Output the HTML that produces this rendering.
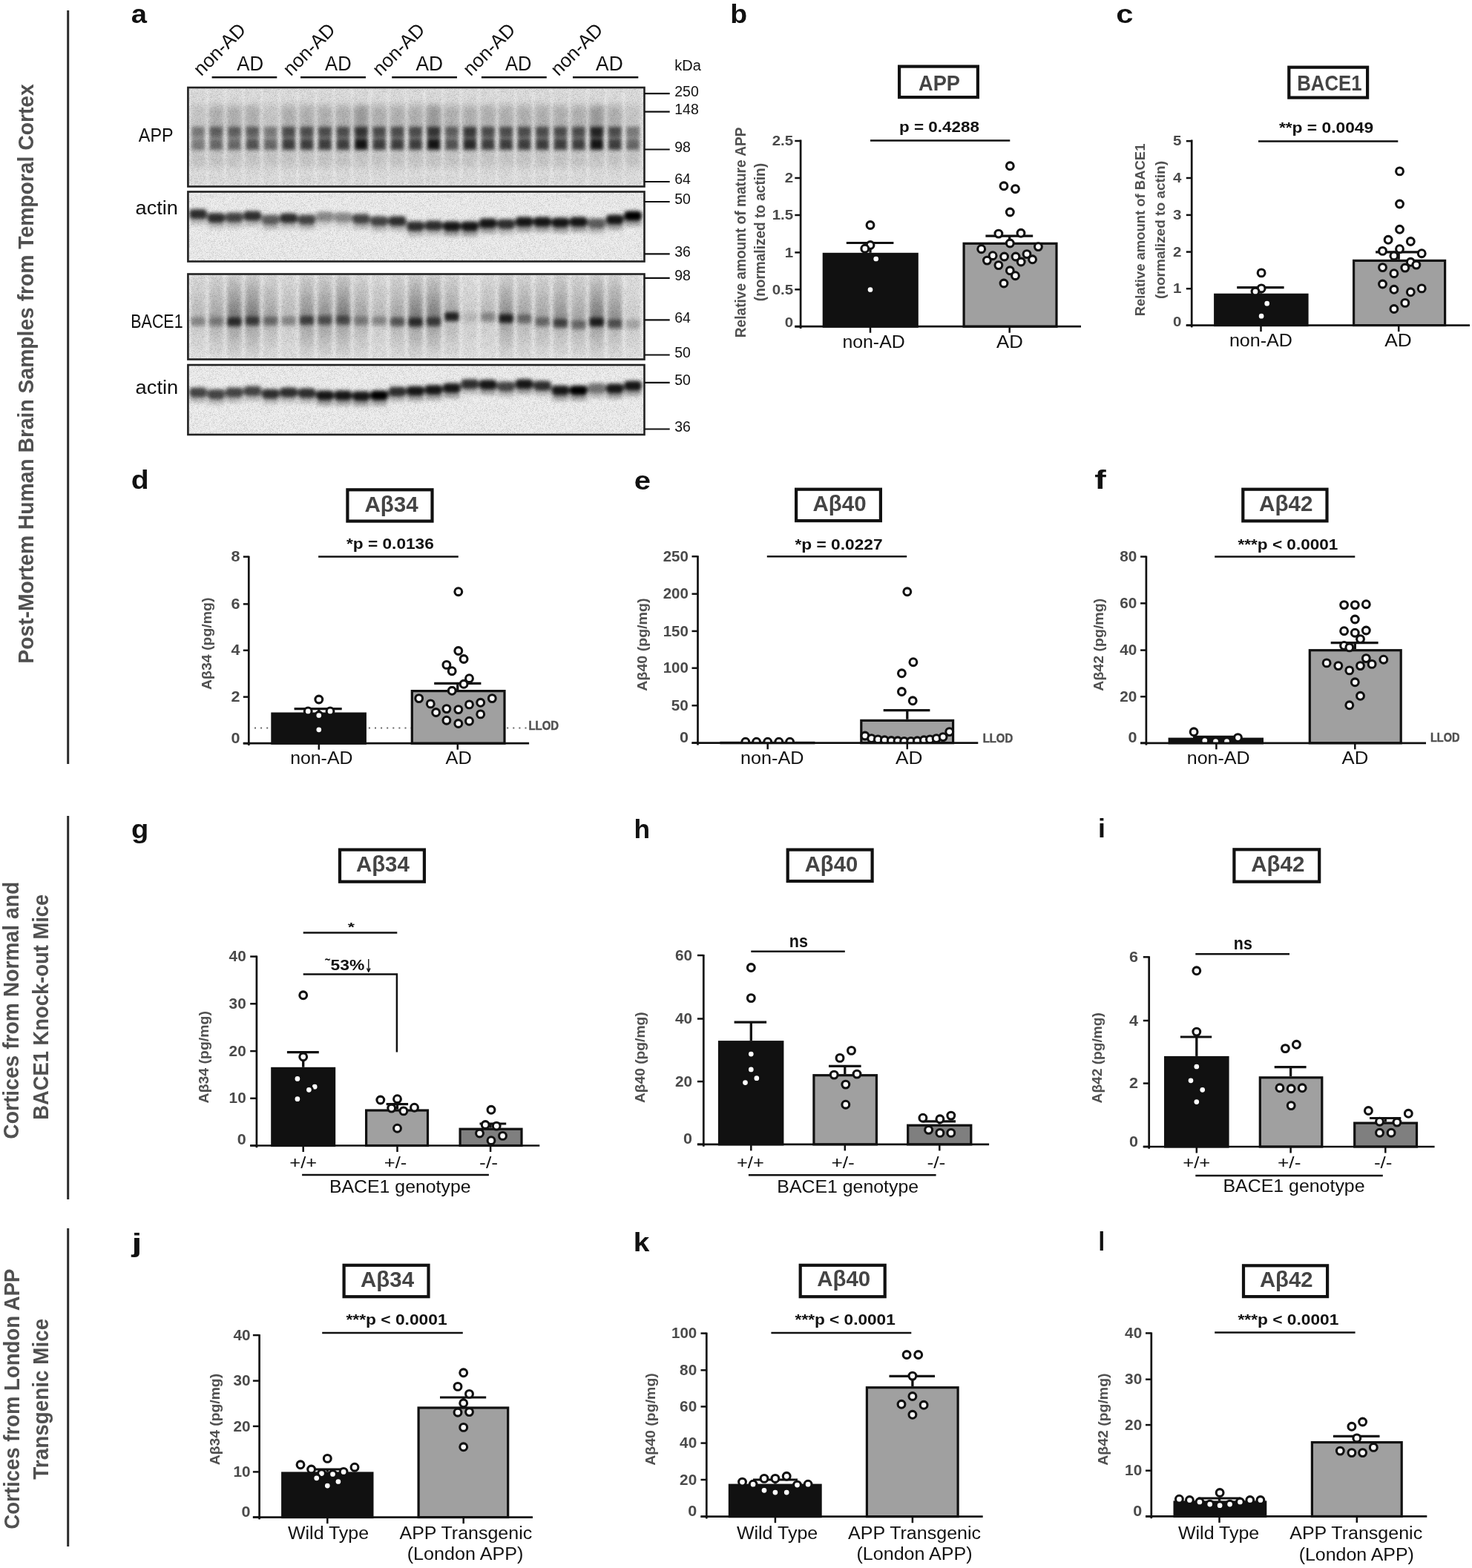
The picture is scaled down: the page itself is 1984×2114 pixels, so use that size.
<!DOCTYPE html><html><head><meta charset="utf-8"><title>Figure</title><style>html,body{margin:0;padding:0;background:#fff;}body{width:1984px;height:2114px;overflow:hidden;}svg{display:block;}</style></head><body><svg width="1984" height="2114" viewBox="0 0 1984 2114" font-family="'Liberation Sans', Arial, sans-serif"><line x1="91.7" y1="14" x2="91.7" y2="1030" stroke="#2b2b2b" stroke-width="3"/>
<line x1="91.7" y1="1100" x2="91.7" y2="1617" stroke="#2b2b2b" stroke-width="3"/>
<line x1="91.7" y1="1656" x2="91.7" y2="2085" stroke="#2b2b2b" stroke-width="3"/>
<text x="45.3" y="894.7" font-size="29" font-weight="bold" fill="#505050" textLength="781.5" lengthAdjust="spacingAndGlyphs" transform="rotate(-90 45.3 894.7)">Post-Mortem Human Brain Samples from Temporal Cortex</text>
<text x="25.5" y="1535.7" font-size="29" font-weight="bold" fill="#505050" textLength="346.9" lengthAdjust="spacingAndGlyphs" transform="rotate(-90 25.5 1535.7)">Cortices from Normal and</text>
<text x="64.6" y="1509.7" font-size="29" font-weight="bold" fill="#505050" textLength="303.9" lengthAdjust="spacingAndGlyphs" transform="rotate(-90 64.6 1509.7)">BACE1 Knock-out Mice</text>
<text x="25.6" y="2061.7" font-size="29" font-weight="bold" fill="#505050" textLength="351.1" lengthAdjust="spacingAndGlyphs" transform="rotate(-90 25.6 2061.7)">Cortices from London APP</text>
<text x="65.2" y="1994.7" font-size="29" font-weight="bold" fill="#505050" textLength="217.1" lengthAdjust="spacingAndGlyphs" transform="rotate(-90 65.2 1994.7)">Transgenic Mice</text>
<text x="176.7" y="31.1" font-size="35" font-weight="bold" fill="#111" textLength="21.2" lengthAdjust="spacingAndGlyphs">a</text>
<text x="984.2" y="30.8" font-size="35" font-weight="bold" fill="#111" textLength="22.9" lengthAdjust="spacingAndGlyphs">b</text>
<text x="1504.2" y="31.1" font-size="35" font-weight="bold" fill="#111" textLength="23.2" lengthAdjust="spacingAndGlyphs">c</text>
<text x="176.8" y="659.2" font-size="35" font-weight="bold" fill="#111" textLength="23.9" lengthAdjust="spacingAndGlyphs">d</text>
<text x="854.8" y="660.2" font-size="35" font-weight="bold" fill="#111" textLength="22.3" lengthAdjust="spacingAndGlyphs">e</text>
<text x="1475.2" y="659.1" font-size="35" font-weight="bold" fill="#111" textLength="15.5" lengthAdjust="spacingAndGlyphs">f</text>
<text x="177.1" y="1129.5" font-size="35" font-weight="bold" fill="#111" textLength="23.3" lengthAdjust="spacingAndGlyphs">g</text>
<text x="854.5" y="1129.5" font-size="35" font-weight="bold" fill="#111" textLength="21.6" lengthAdjust="spacingAndGlyphs">h</text>
<text x="1479.9" y="1128.8" font-size="35" font-weight="bold" fill="#111" textLength="9.9" lengthAdjust="spacingAndGlyphs">i</text>
<text x="177.6" y="1687.5" font-size="35" font-weight="bold" fill="#111" textLength="13.9" lengthAdjust="spacingAndGlyphs">j</text>
<text x="853.8" y="1686.6" font-size="35" font-weight="bold" fill="#111" textLength="21.7" lengthAdjust="spacingAndGlyphs">k</text>
<text x="1480.5" y="1686.3" font-size="35" font-weight="bold" fill="#111" textLength="8.6" lengthAdjust="spacingAndGlyphs">l</text>
<defs><linearGradient id="gup" x1="0" y1="0" x2="0" y2="1"><stop offset="0" stop-color="#000" stop-opacity="0.15"/><stop offset="1" stop-color="#000" stop-opacity="1"/></linearGradient><linearGradient id="gdn" x1="0" y1="0" x2="0" y2="1"><stop offset="0" stop-color="#000" stop-opacity="1"/><stop offset="1" stop-color="#000" stop-opacity="0.1"/></linearGradient><filter id="b2" x="-20%" y="-50%" width="140%" height="200%"><feGaussianBlur stdDeviation="1.8"/></filter><filter id="b25" x="-20%" y="-50%" width="140%" height="200%"><feGaussianBlur stdDeviation="2.4"/></filter><filter id="b3" x="-20%" y="-50%" width="140%" height="200%"><feGaussianBlur stdDeviation="3"/></filter><filter id="b5" x="-30%" y="-30%" width="160%" height="160%"><feGaussianBlur stdDeviation="5"/></filter><filter id="noise" x="0" y="0" width="100%" height="100%"><feTurbulence type="fractalNoise" baseFrequency="1.6" numOctaves="1" seed="3" result="t"/><feColorMatrix type="matrix" values="0 0 0 0 0  0 0 0 0 0  0 0 0 0 0  0 0 0 -2.2 1.25"/></filter><clipPath id="cb0"><rect x="253.4" y="118" width="615.1" height="133.5"/></clipPath><clipPath id="cb1"><rect x="253.4" y="258.5" width="615.1" height="94.0"/></clipPath><clipPath id="cb2"><rect x="253.4" y="369.5" width="615.1" height="115.0"/></clipPath><clipPath id="cb3"><rect x="253.4" y="492" width="615.1" height="94"/></clipPath></defs>
<rect x="253.4" y="118" width="615.1" height="133.5" fill="#e0e0e0"/>
<g clip-path="url(#cb0)"><g filter="url(#b5)"><rect x="257" y="142" width="20" height="38" fill="#000" opacity="0.1"/><rect x="257" y="195" width="20" height="30" fill="#000" opacity="0.1"/><rect x="281.4" y="142" width="20" height="38" fill="#000" opacity="0.2"/><rect x="281.4" y="195" width="20" height="30" fill="#000" opacity="0.1"/><rect x="305.8" y="142" width="20" height="38" fill="#000" opacity="0.2"/><rect x="305.8" y="195" width="20" height="30" fill="#000" opacity="0.1"/><rect x="330.3" y="142" width="20" height="38" fill="#000" opacity="0.2"/><rect x="330.3" y="195" width="20" height="30" fill="#000" opacity="0.1"/><rect x="354.7" y="142" width="20" height="38" fill="#000" opacity="0.1"/><rect x="354.7" y="195" width="20" height="30" fill="#000" opacity="0.1"/><rect x="379.1" y="142" width="20" height="38" fill="#000" opacity="0.2"/><rect x="379.1" y="195" width="20" height="30" fill="#000" opacity="0.1"/><rect x="403.5" y="142" width="20" height="38" fill="#000" opacity="0.2"/><rect x="403.5" y="195" width="20" height="30" fill="#000" opacity="0.1"/><rect x="427.9" y="142" width="20" height="38" fill="#000" opacity="0.2"/><rect x="427.9" y="195" width="20" height="30" fill="#000" opacity="0.1"/><rect x="452.4" y="142" width="20" height="38" fill="#000" opacity="0.2"/><rect x="452.4" y="195" width="20" height="30" fill="#000" opacity="0.1"/><rect x="476.8" y="142" width="20" height="38" fill="#000" opacity="0.3"/><rect x="476.8" y="195" width="20" height="30" fill="#000" opacity="0.1"/><rect x="501.2" y="142" width="20" height="38" fill="#000" opacity="0.2"/><rect x="501.2" y="195" width="20" height="30" fill="#000" opacity="0.1"/><rect x="525.6" y="142" width="20" height="38" fill="#000" opacity="0.2"/><rect x="525.6" y="195" width="20" height="30" fill="#000" opacity="0.1"/><rect x="550" y="142" width="20" height="38" fill="#000" opacity="0.2"/><rect x="550" y="195" width="20" height="30" fill="#000" opacity="0.1"/><rect x="574.5" y="142" width="20" height="38" fill="#000" opacity="0.3"/><rect x="574.5" y="195" width="20" height="30" fill="#000" opacity="0.1"/><rect x="598.9" y="142" width="20" height="38" fill="#000" opacity="0.2"/><rect x="598.9" y="195" width="20" height="30" fill="#000" opacity="0.1"/><rect x="623.3" y="142" width="20" height="38" fill="#000" opacity="0.2"/><rect x="623.3" y="195" width="20" height="30" fill="#000" opacity="0.1"/><rect x="647.7" y="142" width="20" height="38" fill="#000" opacity="0.2"/><rect x="647.7" y="195" width="20" height="30" fill="#000" opacity="0.1"/><rect x="672.1" y="142" width="20" height="38" fill="#000" opacity="0.2"/><rect x="672.1" y="195" width="20" height="30" fill="#000" opacity="0.1"/><rect x="696.6" y="142" width="20" height="38" fill="#000" opacity="0.2"/><rect x="696.6" y="195" width="20" height="30" fill="#000" opacity="0.1"/><rect x="721" y="142" width="20" height="38" fill="#000" opacity="0.2"/><rect x="721" y="195" width="20" height="30" fill="#000" opacity="0.1"/><rect x="745.4" y="142" width="20" height="38" fill="#000" opacity="0.2"/><rect x="745.4" y="195" width="20" height="30" fill="#000" opacity="0.1"/><rect x="769.8" y="142" width="20" height="38" fill="#000" opacity="0.2"/><rect x="769.8" y="195" width="20" height="30" fill="#000" opacity="0.1"/><rect x="794.2" y="142" width="20" height="38" fill="#000" opacity="0.3"/><rect x="794.2" y="195" width="20" height="30" fill="#000" opacity="0.1"/><rect x="818.7" y="142" width="20" height="38" fill="#000" opacity="0.2"/><rect x="818.7" y="195" width="20" height="30" fill="#000" opacity="0.1"/><rect x="843.1" y="142" width="20" height="38" fill="#000" opacity="0.1"/><rect x="843.1" y="195" width="20" height="30" fill="#000" opacity="0.1"/></g><g filter="url(#b25)"><rect x="258" y="171" width="18" height="15" fill="#000" opacity="0.4"/><rect x="258" y="187" width="18" height="15" fill="#000" opacity="0.4"/><rect x="282.4" y="171" width="18" height="15" fill="#000" opacity="0.5"/><rect x="282.4" y="187" width="18" height="15" fill="#000" opacity="0.5"/><rect x="306.8" y="171" width="18" height="15" fill="#000" opacity="0.5"/><rect x="306.8" y="187" width="18" height="15" fill="#000" opacity="0.5"/><rect x="331.3" y="171" width="18" height="15" fill="#000" opacity="0.5"/><rect x="331.3" y="187" width="18" height="15" fill="#000" opacity="0.6"/><rect x="355.7" y="171" width="18" height="15" fill="#000" opacity="0.4"/><rect x="355.7" y="187" width="18" height="15" fill="#000" opacity="0.5"/><rect x="380.1" y="171" width="18" height="15" fill="#000" opacity="0.6"/><rect x="380.1" y="187" width="18" height="15" fill="#000" opacity="0.7"/><rect x="404.5" y="171" width="18" height="15" fill="#000" opacity="0.6"/><rect x="404.5" y="187" width="18" height="15" fill="#000" opacity="0.7"/><rect x="428.9" y="171" width="18" height="15" fill="#000" opacity="0.6"/><rect x="428.9" y="187" width="18" height="15" fill="#000" opacity="0.7"/><rect x="453.4" y="171" width="18" height="15" fill="#000" opacity="0.6"/><rect x="453.4" y="187" width="18" height="15" fill="#000" opacity="0.7"/><rect x="477.8" y="171" width="18" height="15" fill="#000" opacity="0.7"/><rect x="477.8" y="187" width="18" height="15" fill="#000" opacity="0.9"/><rect x="502.2" y="171" width="18" height="15" fill="#000" opacity="0.6"/><rect x="502.2" y="187" width="18" height="15" fill="#000" opacity="0.7"/><rect x="526.6" y="171" width="18" height="15" fill="#000" opacity="0.6"/><rect x="526.6" y="187" width="18" height="15" fill="#000" opacity="0.7"/><rect x="551" y="171" width="18" height="15" fill="#000" opacity="0.6"/><rect x="551" y="187" width="18" height="15" fill="#000" opacity="0.7"/><rect x="575.5" y="171" width="18" height="15" fill="#000" opacity="0.7"/><rect x="575.5" y="187" width="18" height="15" fill="#000" opacity="0.9"/><rect x="599.9" y="171" width="18" height="15" fill="#000" opacity="0.5"/><rect x="599.9" y="187" width="18" height="15" fill="#000" opacity="0.6"/><rect x="624.3" y="171" width="18" height="15" fill="#000" opacity="0.7"/><rect x="624.3" y="187" width="18" height="15" fill="#000" opacity="0.8"/><rect x="648.7" y="171" width="18" height="15" fill="#000" opacity="0.6"/><rect x="648.7" y="187" width="18" height="15" fill="#000" opacity="0.7"/><rect x="673.1" y="171" width="18" height="15" fill="#000" opacity="0.6"/><rect x="673.1" y="187" width="18" height="15" fill="#000" opacity="0.7"/><rect x="697.6" y="171" width="18" height="15" fill="#000" opacity="0.6"/><rect x="697.6" y="187" width="18" height="15" fill="#000" opacity="0.7"/><rect x="722" y="171" width="18" height="15" fill="#000" opacity="0.6"/><rect x="722" y="187" width="18" height="15" fill="#000" opacity="0.7"/><rect x="746.4" y="171" width="18" height="15" fill="#000" opacity="0.6"/><rect x="746.4" y="187" width="18" height="15" fill="#000" opacity="0.7"/><rect x="770.8" y="171" width="18" height="15" fill="#000" opacity="0.6"/><rect x="770.8" y="187" width="18" height="15" fill="#000" opacity="0.7"/><rect x="795.2" y="171" width="18" height="15" fill="#000" opacity="0.8"/><rect x="795.2" y="187" width="18" height="15" fill="#000" opacity="0.9"/><rect x="819.7" y="171" width="18" height="15" fill="#000" opacity="0.6"/><rect x="819.7" y="187" width="18" height="15" fill="#000" opacity="0.7"/><rect x="844.1" y="171" width="18" height="15" fill="#000" opacity="0.4"/><rect x="844.1" y="187" width="18" height="15" fill="#000" opacity="0.5"/></g></g>
<rect x="253.4" y="258.5" width="615.1" height="94" fill="#efefef"/>
<g clip-path="url(#cb1)"><g filter="url(#b25)"><rect x="255" y="282.1" width="24" height="13" rx="5" fill="#000" opacity="0.8"/><rect x="256" y="292.6" width="22" height="10" rx="3" fill="#000" opacity="0.2"/><rect x="279.4" y="287.2" width="24" height="13" rx="5" fill="#000" opacity="0.8"/><rect x="280.4" y="297.7" width="22" height="10" rx="3" fill="#000" opacity="0.2"/><rect x="303.8" y="286.4" width="24" height="13" rx="5" fill="#000" opacity="0.7"/><rect x="304.8" y="296.9" width="22" height="10" rx="3" fill="#000" opacity="0.2"/><rect x="328.3" y="284.5" width="24" height="13" rx="5" fill="#000" opacity="0.8"/><rect x="329.3" y="295" width="22" height="10" rx="3" fill="#000" opacity="0.2"/><rect x="352.7" y="289.5" width="24" height="13" rx="5" fill="#000" opacity="0.6"/><rect x="353.7" y="300" width="22" height="10" rx="3" fill="#000" opacity="0.2"/><rect x="377.1" y="287.5" width="24" height="13" rx="5" fill="#000" opacity="0.8"/><rect x="378.1" y="298" width="22" height="10" rx="3" fill="#000" opacity="0.2"/><rect x="401.5" y="289.5" width="24" height="13" rx="5" fill="#000" opacity="0.7"/><rect x="402.5" y="300" width="22" height="10" rx="3" fill="#000" opacity="0.2"/><rect x="425.9" y="285.5" width="24" height="13" rx="5" fill="#000" opacity="0.4"/><rect x="426.9" y="296" width="22" height="10" rx="3" fill="#000" opacity="0.1"/><rect x="450.4" y="286.5" width="24" height="13" rx="5" fill="#000" opacity="0.4"/><rect x="451.4" y="297" width="22" height="10" rx="3" fill="#000" opacity="0.1"/><rect x="474.8" y="288.5" width="24" height="13" rx="5" fill="#000" opacity="0.7"/><rect x="475.8" y="299" width="22" height="10" rx="3" fill="#000" opacity="0.2"/><rect x="499.2" y="291.5" width="24" height="13" rx="5" fill="#000" opacity="0.7"/><rect x="500.2" y="302" width="22" height="10" rx="3" fill="#000" opacity="0.2"/><rect x="523.6" y="291.5" width="24" height="13" rx="5" fill="#000" opacity="0.8"/><rect x="524.6" y="302" width="22" height="10" rx="3" fill="#000" opacity="0.2"/><rect x="548" y="298.5" width="24" height="13" rx="5" fill="#000" opacity="0.8"/><rect x="549" y="309" width="22" height="10" rx="3" fill="#000" opacity="0.2"/><rect x="572.5" y="297.5" width="24" height="13" rx="5" fill="#000" opacity="0.8"/><rect x="573.5" y="308" width="22" height="10" rx="3" fill="#000" opacity="0.2"/><rect x="596.9" y="298.5" width="24" height="13" rx="5" fill="#000" opacity="0.9"/><rect x="597.9" y="309" width="22" height="10" rx="3" fill="#000" opacity="0.3"/><rect x="621.3" y="298.5" width="24" height="13" rx="5" fill="#000" opacity="0.9"/><rect x="622.3" y="309" width="22" height="10" rx="3" fill="#000" opacity="0.3"/><rect x="645.7" y="294.5" width="24" height="13" rx="5" fill="#000" opacity="0.9"/><rect x="646.7" y="305" width="22" height="10" rx="3" fill="#000" opacity="0.3"/><rect x="670.1" y="295.5" width="24" height="13" rx="5" fill="#000" opacity="0.8"/><rect x="671.1" y="306" width="22" height="10" rx="3" fill="#000" opacity="0.2"/><rect x="694.6" y="292.5" width="24" height="13" rx="5" fill="#000" opacity="0.9"/><rect x="695.6" y="303" width="22" height="10" rx="3" fill="#000" opacity="0.3"/><rect x="719" y="292.5" width="24" height="13" rx="5" fill="#000" opacity="0.9"/><rect x="720" y="303" width="22" height="10" rx="3" fill="#000" opacity="0.3"/><rect x="743.4" y="293.5" width="24" height="13" rx="5" fill="#000" opacity="0.9"/><rect x="744.4" y="304" width="22" height="10" rx="3" fill="#000" opacity="0.3"/><rect x="767.8" y="292.5" width="24" height="13" rx="5" fill="#000" opacity="0.9"/><rect x="768.8" y="303" width="22" height="10" rx="3" fill="#000" opacity="0.3"/><rect x="792.2" y="294.5" width="24" height="13" rx="5" fill="#000" opacity="0.6"/><rect x="793.2" y="305" width="22" height="10" rx="3" fill="#000" opacity="0.2"/><rect x="816.7" y="289.5" width="24" height="13" rx="5" fill="#000" opacity="0.9"/><rect x="817.7" y="300" width="22" height="10" rx="3" fill="#000" opacity="0.3"/><rect x="841.1" y="284.5" width="24" height="13" rx="5" fill="#000" opacity="1"/><rect x="842.1" y="295" width="22" height="10" rx="3" fill="#000" opacity="0.3"/></g></g>
<rect x="253.4" y="369.5" width="615.1" height="115" fill="#e8e8e8"/>
<g clip-path="url(#cb2)"><g filter="url(#b3)"><rect x="257" y="368" width="20" height="66" fill="url(#gup)" opacity="0.2"/><rect x="257" y="434" width="20" height="50" fill="url(#gdn)" opacity="0.1"/><rect x="281.4" y="368" width="20" height="66" fill="url(#gup)" opacity="0.3"/><rect x="281.4" y="434" width="20" height="50" fill="url(#gdn)" opacity="0.2"/><rect x="305.8" y="368" width="20" height="66" fill="url(#gup)" opacity="0.5"/><rect x="305.8" y="434" width="20" height="50" fill="url(#gdn)" opacity="0.3"/><rect x="330.3" y="368" width="20" height="65" fill="url(#gup)" opacity="0.5"/><rect x="330.3" y="433" width="20" height="51" fill="url(#gdn)" opacity="0.3"/><rect x="354.7" y="368" width="20" height="65" fill="url(#gup)" opacity="0.3"/><rect x="354.7" y="433" width="20" height="51" fill="url(#gdn)" opacity="0.2"/><rect x="379.1" y="368" width="20" height="65" fill="url(#gup)" opacity="0.2"/><rect x="379.1" y="433" width="20" height="51" fill="url(#gdn)" opacity="0.1"/><rect x="403.5" y="368" width="20" height="64" fill="url(#gup)" opacity="0.4"/><rect x="403.5" y="432" width="20" height="52" fill="url(#gdn)" opacity="0.3"/><rect x="427.9" y="368" width="20" height="64" fill="url(#gup)" opacity="0.4"/><rect x="427.9" y="432" width="20" height="52" fill="url(#gdn)" opacity="0.3"/><rect x="452.4" y="368" width="20" height="64" fill="url(#gup)" opacity="0.5"/><rect x="452.4" y="432" width="20" height="52" fill="url(#gdn)" opacity="0.3"/><rect x="476.8" y="368" width="20" height="65" fill="url(#gup)" opacity="0.3"/><rect x="476.8" y="433" width="20" height="51" fill="url(#gdn)" opacity="0.2"/><rect x="501.2" y="368" width="20" height="65" fill="url(#gup)" opacity="0.2"/><rect x="501.2" y="433" width="20" height="51" fill="url(#gdn)" opacity="0.1"/><rect x="525.6" y="368" width="20" height="66" fill="url(#gup)" opacity="0.3"/><rect x="525.6" y="434" width="20" height="50" fill="url(#gdn)" opacity="0.2"/><rect x="550" y="368" width="20" height="66.6" fill="url(#gup)" opacity="0.5"/><rect x="550" y="434.6" width="20" height="49.4" fill="url(#gdn)" opacity="0.3"/><rect x="574.5" y="368" width="20" height="66" fill="url(#gup)" opacity="0.5"/><rect x="574.5" y="434" width="20" height="50" fill="url(#gdn)" opacity="0.3"/><rect x="598.9" y="368" width="20" height="59" fill="url(#gup)" opacity="0.3"/><rect x="598.9" y="427" width="20" height="57" fill="url(#gdn)" opacity="0.2"/><rect x="623.3" y="368" width="20" height="60" fill="url(#gup)" opacity="0.1"/><rect x="623.3" y="428" width="20" height="56" fill="url(#gdn)" opacity="0.1"/><rect x="647.7" y="368" width="20" height="60" fill="url(#gup)" opacity="0.2"/><rect x="647.7" y="428" width="20" height="56" fill="url(#gdn)" opacity="0.1"/><rect x="672.1" y="368" width="20" height="61.5" fill="url(#gup)" opacity="0.4"/><rect x="672.1" y="429.5" width="20" height="54.5" fill="url(#gdn)" opacity="0.3"/><rect x="696.6" y="368" width="20" height="62" fill="url(#gup)" opacity="0.3"/><rect x="696.6" y="430" width="20" height="54" fill="url(#gdn)" opacity="0.2"/><rect x="721" y="368" width="20" height="66" fill="url(#gup)" opacity="0.3"/><rect x="721" y="434" width="20" height="50" fill="url(#gdn)" opacity="0.2"/><rect x="745.4" y="368" width="20" height="68" fill="url(#gup)" opacity="0.4"/><rect x="745.4" y="436" width="20" height="48" fill="url(#gdn)" opacity="0.2"/><rect x="769.8" y="368" width="20" height="70" fill="url(#gup)" opacity="0.3"/><rect x="769.8" y="438" width="20" height="46" fill="url(#gdn)" opacity="0.2"/><rect x="794.2" y="368" width="20" height="66.6" fill="url(#gup)" opacity="0.5"/><rect x="794.2" y="434.6" width="20" height="49.4" fill="url(#gdn)" opacity="0.3"/><rect x="818.7" y="368" width="20" height="69" fill="url(#gup)" opacity="0.4"/><rect x="818.7" y="437" width="20" height="47" fill="url(#gdn)" opacity="0.2"/><rect x="843.1" y="368" width="20" height="69" fill="url(#gup)" opacity="0.1"/><rect x="843.1" y="437" width="20" height="47" fill="url(#gdn)" opacity="0.1"/></g><g filter="url(#b25)"><rect x="257" y="428" width="20" height="12" rx="3" fill="#000" opacity="0.3"/><rect x="281.4" y="428" width="20" height="12" rx="3" fill="#000" opacity="0.3"/><rect x="305.8" y="428" width="20" height="12" rx="3" fill="#000" opacity="0.7"/><rect x="330.3" y="427" width="20" height="12" rx="3" fill="#000" opacity="0.6"/><rect x="354.7" y="427" width="20" height="12" rx="3" fill="#000" opacity="0.4"/><rect x="379.1" y="427" width="20" height="12" rx="3" fill="#000" opacity="0.3"/><rect x="403.5" y="426" width="20" height="12" rx="3" fill="#000" opacity="0.6"/><rect x="427.9" y="426" width="20" height="12" rx="3" fill="#000" opacity="0.5"/><rect x="452.4" y="426" width="20" height="12" rx="3" fill="#000" opacity="0.5"/><rect x="476.8" y="427" width="20" height="12" rx="3" fill="#000" opacity="0.3"/><rect x="501.2" y="427" width="20" height="12" rx="3" fill="#000" opacity="0.3"/><rect x="525.6" y="428" width="20" height="12" rx="3" fill="#000" opacity="0.5"/><rect x="550" y="428.6" width="20" height="12" rx="3" fill="#000" opacity="0.7"/><rect x="574.5" y="428" width="20" height="12" rx="3" fill="#000" opacity="0.6"/><rect x="598.9" y="421" width="20" height="12" rx="3" fill="#000" opacity="0.8"/><rect x="623.3" y="422" width="20" height="12" rx="3" fill="#000" opacity="0.1"/><rect x="647.7" y="422" width="20" height="12" rx="3" fill="#000" opacity="0.3"/><rect x="672.1" y="423.5" width="20" height="12" rx="3" fill="#000" opacity="0.8"/><rect x="696.6" y="424" width="20" height="12" rx="3" fill="#000" opacity="0.4"/><rect x="721" y="428" width="20" height="12" rx="3" fill="#000" opacity="0.4"/><rect x="745.4" y="430" width="20" height="12" rx="3" fill="#000" opacity="0.6"/><rect x="769.8" y="432" width="20" height="12" rx="3" fill="#000" opacity="0.4"/><rect x="794.2" y="428.6" width="20" height="12" rx="3" fill="#000" opacity="0.8"/><rect x="818.7" y="431" width="20" height="12" rx="3" fill="#000" opacity="0.5"/><rect x="843.1" y="431" width="20" height="12" rx="3" fill="#000" opacity="0.2"/></g></g>
<rect x="253.4" y="492" width="615.1" height="94" fill="#f0f0f0"/>
<g clip-path="url(#cb3)"><g filter="url(#b25)"><rect x="255" y="522.4" width="24" height="13" rx="5" fill="#000" opacity="0.7"/><rect x="256" y="532.9" width="22" height="10" rx="3" fill="#000" opacity="0.2"/><rect x="279.4" y="525" width="24" height="13" rx="5" fill="#000" opacity="0.7"/><rect x="280.4" y="535.5" width="22" height="10" rx="3" fill="#000" opacity="0.2"/><rect x="303.8" y="522.5" width="24" height="13" rx="5" fill="#000" opacity="0.7"/><rect x="304.8" y="533" width="22" height="10" rx="3" fill="#000" opacity="0.2"/><rect x="328.3" y="520.5" width="24" height="13" rx="5" fill="#000" opacity="0.7"/><rect x="329.3" y="531" width="22" height="10" rx="3" fill="#000" opacity="0.2"/><rect x="352.7" y="524.5" width="24" height="13" rx="5" fill="#000" opacity="0.8"/><rect x="353.7" y="535" width="22" height="10" rx="3" fill="#000" opacity="0.2"/><rect x="377.1" y="522.5" width="24" height="13" rx="5" fill="#000" opacity="0.8"/><rect x="378.1" y="533" width="22" height="10" rx="3" fill="#000" opacity="0.2"/><rect x="401.5" y="523.5" width="24" height="13" rx="5" fill="#000" opacity="0.8"/><rect x="402.5" y="534" width="22" height="10" rx="3" fill="#000" opacity="0.2"/><rect x="425.9" y="526.5" width="24" height="13" rx="5" fill="#000" opacity="0.9"/><rect x="426.9" y="537" width="22" height="10" rx="3" fill="#000" opacity="0.3"/><rect x="450.4" y="526.5" width="24" height="13" rx="5" fill="#000" opacity="0.9"/><rect x="451.4" y="537" width="22" height="10" rx="3" fill="#000" opacity="0.3"/><rect x="474.8" y="527.5" width="24" height="13" rx="5" fill="#000" opacity="0.9"/><rect x="475.8" y="538" width="22" height="10" rx="3" fill="#000" opacity="0.3"/><rect x="499.2" y="526.5" width="24" height="13" rx="5" fill="#000" opacity="1"/><rect x="500.2" y="537" width="22" height="10" rx="3" fill="#000" opacity="0.3"/><rect x="523.6" y="521.5" width="24" height="13" rx="5" fill="#000" opacity="0.8"/><rect x="524.6" y="532" width="22" height="10" rx="3" fill="#000" opacity="0.2"/><rect x="548" y="520.5" width="24" height="13" rx="5" fill="#000" opacity="0.9"/><rect x="549" y="531" width="22" height="10" rx="3" fill="#000" opacity="0.3"/><rect x="572.5" y="519" width="24" height="13" rx="5" fill="#000" opacity="0.9"/><rect x="573.5" y="529.5" width="22" height="10" rx="3" fill="#000" opacity="0.3"/><rect x="596.9" y="516.5" width="24" height="13" rx="5" fill="#000" opacity="0.9"/><rect x="597.9" y="527" width="22" height="10" rx="3" fill="#000" opacity="0.3"/><rect x="621.3" y="511.2" width="24" height="13" rx="5" fill="#000" opacity="0.8"/><rect x="622.3" y="521.7" width="22" height="10" rx="3" fill="#000" opacity="0.2"/><rect x="645.7" y="512.1" width="24" height="13" rx="5" fill="#000" opacity="0.9"/><rect x="646.7" y="522.6" width="22" height="10" rx="3" fill="#000" opacity="0.3"/><rect x="670.1" y="514.5" width="24" height="13" rx="5" fill="#000" opacity="0.7"/><rect x="671.1" y="525" width="22" height="10" rx="3" fill="#000" opacity="0.2"/><rect x="694.6" y="511.2" width="24" height="13" rx="5" fill="#000" opacity="0.9"/><rect x="695.6" y="521.7" width="22" height="10" rx="3" fill="#000" opacity="0.3"/><rect x="719" y="513.5" width="24" height="13" rx="5" fill="#000" opacity="0.8"/><rect x="720" y="524" width="22" height="10" rx="3" fill="#000" opacity="0.2"/><rect x="743.4" y="519.8" width="24" height="13" rx="5" fill="#000" opacity="0.9"/><rect x="744.4" y="530.3" width="22" height="10" rx="3" fill="#000" opacity="0.3"/><rect x="767.8" y="519.8" width="24" height="13" rx="5" fill="#000" opacity="1"/><rect x="768.8" y="530.3" width="22" height="10" rx="3" fill="#000" opacity="0.3"/><rect x="792.2" y="516.5" width="24" height="13" rx="5" fill="#000" opacity="0.5"/><rect x="793.2" y="527" width="22" height="10" rx="3" fill="#000" opacity="0.2"/><rect x="816.7" y="517.2" width="24" height="13" rx="5" fill="#000" opacity="0.9"/><rect x="817.7" y="527.7" width="22" height="10" rx="3" fill="#000" opacity="0.3"/><rect x="841.1" y="513.5" width="24" height="13" rx="5" fill="#000" opacity="0.9"/><rect x="842.1" y="524" width="22" height="10" rx="3" fill="#000" opacity="0.3"/></g></g>
<g clip-path="url(#cb0)" filter="url(#b2)"><rect x="253" y="118" width="3.6" height="133.5" fill="#fff" opacity="0.35"/><rect x="277.4" y="118" width="3.6" height="133.5" fill="#fff" opacity="0.35"/><rect x="301.8" y="118" width="3.6" height="133.5" fill="#fff" opacity="0.35"/><rect x="326.3" y="118" width="3.6" height="133.5" fill="#fff" opacity="0.35"/><rect x="350.7" y="118" width="3.6" height="133.5" fill="#fff" opacity="0.35"/><rect x="375.1" y="118" width="3.6" height="133.5" fill="#fff" opacity="0.35"/><rect x="399.5" y="118" width="3.6" height="133.5" fill="#fff" opacity="0.35"/><rect x="423.9" y="118" width="3.6" height="133.5" fill="#fff" opacity="0.35"/><rect x="448.4" y="118" width="3.6" height="133.5" fill="#fff" opacity="0.35"/><rect x="472.8" y="118" width="3.6" height="133.5" fill="#fff" opacity="0.35"/><rect x="497.2" y="118" width="3.6" height="133.5" fill="#fff" opacity="0.35"/><rect x="521.6" y="118" width="3.6" height="133.5" fill="#fff" opacity="0.35"/><rect x="546" y="118" width="3.6" height="133.5" fill="#fff" opacity="0.35"/><rect x="570.5" y="118" width="3.6" height="133.5" fill="#fff" opacity="0.35"/><rect x="594.9" y="118" width="3.6" height="133.5" fill="#fff" opacity="0.35"/><rect x="619.3" y="118" width="3.6" height="133.5" fill="#fff" opacity="0.35"/><rect x="643.7" y="118" width="3.6" height="133.5" fill="#fff" opacity="0.35"/><rect x="668.1" y="118" width="3.6" height="133.5" fill="#fff" opacity="0.35"/><rect x="692.6" y="118" width="3.6" height="133.5" fill="#fff" opacity="0.35"/><rect x="717" y="118" width="3.6" height="133.5" fill="#fff" opacity="0.35"/><rect x="741.4" y="118" width="3.6" height="133.5" fill="#fff" opacity="0.35"/><rect x="765.8" y="118" width="3.6" height="133.5" fill="#fff" opacity="0.35"/><rect x="790.2" y="118" width="3.6" height="133.5" fill="#fff" opacity="0.35"/><rect x="814.7" y="118" width="3.6" height="133.5" fill="#fff" opacity="0.35"/><rect x="839.1" y="118" width="3.6" height="133.5" fill="#fff" opacity="0.35"/><rect x="863.5" y="118" width="3.6" height="133.5" fill="#fff" opacity="0.35"/></g>
<g clip-path="url(#cb2)" filter="url(#b2)"><rect x="253" y="369.5" width="3.6" height="115.0" fill="#fff" opacity="0.35"/><rect x="277.4" y="369.5" width="3.6" height="115.0" fill="#fff" opacity="0.35"/><rect x="301.8" y="369.5" width="3.6" height="115.0" fill="#fff" opacity="0.35"/><rect x="326.3" y="369.5" width="3.6" height="115.0" fill="#fff" opacity="0.35"/><rect x="350.7" y="369.5" width="3.6" height="115.0" fill="#fff" opacity="0.35"/><rect x="375.1" y="369.5" width="3.6" height="115.0" fill="#fff" opacity="0.35"/><rect x="399.5" y="369.5" width="3.6" height="115.0" fill="#fff" opacity="0.35"/><rect x="423.9" y="369.5" width="3.6" height="115.0" fill="#fff" opacity="0.35"/><rect x="448.4" y="369.5" width="3.6" height="115.0" fill="#fff" opacity="0.35"/><rect x="472.8" y="369.5" width="3.6" height="115.0" fill="#fff" opacity="0.35"/><rect x="497.2" y="369.5" width="3.6" height="115.0" fill="#fff" opacity="0.35"/><rect x="521.6" y="369.5" width="3.6" height="115.0" fill="#fff" opacity="0.35"/><rect x="546" y="369.5" width="3.6" height="115.0" fill="#fff" opacity="0.35"/><rect x="570.5" y="369.5" width="3.6" height="115.0" fill="#fff" opacity="0.35"/><rect x="594.9" y="369.5" width="3.6" height="115.0" fill="#fff" opacity="0.35"/><rect x="619.3" y="369.5" width="3.6" height="115.0" fill="#fff" opacity="0.35"/><rect x="643.7" y="369.5" width="3.6" height="115.0" fill="#fff" opacity="0.35"/><rect x="668.1" y="369.5" width="3.6" height="115.0" fill="#fff" opacity="0.35"/><rect x="692.6" y="369.5" width="3.6" height="115.0" fill="#fff" opacity="0.35"/><rect x="717" y="369.5" width="3.6" height="115.0" fill="#fff" opacity="0.35"/><rect x="741.4" y="369.5" width="3.6" height="115.0" fill="#fff" opacity="0.35"/><rect x="765.8" y="369.5" width="3.6" height="115.0" fill="#fff" opacity="0.35"/><rect x="790.2" y="369.5" width="3.6" height="115.0" fill="#fff" opacity="0.35"/><rect x="814.7" y="369.5" width="3.6" height="115.0" fill="#fff" opacity="0.35"/><rect x="839.1" y="369.5" width="3.6" height="115.0" fill="#fff" opacity="0.35"/><rect x="863.5" y="369.5" width="3.6" height="115.0" fill="#fff" opacity="0.35"/></g>
<rect x="253.4" y="118" width="615.1" height="133.5" fill="#000" filter="url(#noise)" opacity="0.22"/>
<rect x="253.4" y="258.5" width="615.1" height="94.0" fill="#000" filter="url(#noise)" opacity="0.22"/>
<rect x="253.4" y="369.5" width="615.1" height="115.0" fill="#000" filter="url(#noise)" opacity="0.22"/>
<rect x="253.4" y="492" width="615.1" height="94" fill="#000" filter="url(#noise)" opacity="0.22"/>
<rect x="253.4" y="118" width="615.1" height="133.5" fill="none" stroke="#222" stroke-width="2.6"/>
<rect x="253.4" y="258.5" width="615.1" height="94" fill="none" stroke="#222" stroke-width="2.6"/>
<rect x="253.4" y="369.5" width="615.1" height="115" fill="none" stroke="#222" stroke-width="2.6"/>
<rect x="253.4" y="492" width="615.1" height="94" fill="none" stroke="#222" stroke-width="2.6"/>
<line x1="868.5" y1="126.2" x2="902.7" y2="126.2" stroke="#111" stroke-width="2.2"/>
<text x="909.2" y="129.6" font-size="19.5" fill="#111">250</text>
<line x1="868.5" y1="150.6" x2="902.7" y2="150.6" stroke="#111" stroke-width="2.2"/>
<text x="909.2" y="154" font-size="19.5" fill="#111">148</text>
<line x1="868.5" y1="201.5" x2="902.7" y2="201.5" stroke="#111" stroke-width="2.2"/>
<text x="909.2" y="204.9" font-size="19.5" fill="#111">98</text>
<line x1="868.5" y1="245" x2="902.7" y2="245" stroke="#111" stroke-width="2.2"/>
<text x="909.2" y="248.4" font-size="19.5" fill="#111">64</text>
<line x1="868.5" y1="272" x2="902.7" y2="272" stroke="#111" stroke-width="2.2"/>
<text x="909.2" y="275.4" font-size="19.5" fill="#111">50</text>
<line x1="868.5" y1="342.3" x2="902.7" y2="342.3" stroke="#111" stroke-width="2.2"/>
<text x="909.2" y="345.7" font-size="19.5" fill="#111">36</text>
<line x1="868.5" y1="374.9" x2="902.7" y2="374.9" stroke="#111" stroke-width="2.2"/>
<text x="909.2" y="378.3" font-size="19.5" fill="#111">98</text>
<line x1="868.5" y1="431.3" x2="902.7" y2="431.3" stroke="#111" stroke-width="2.2"/>
<text x="909.2" y="434.7" font-size="19.5" fill="#111">64</text>
<line x1="868.5" y1="478.5" x2="902.7" y2="478.5" stroke="#111" stroke-width="2.2"/>
<text x="909.2" y="481.9" font-size="19.5" fill="#111">50</text>
<line x1="868.5" y1="515.8" x2="902.7" y2="515.8" stroke="#111" stroke-width="2.2"/>
<text x="909.2" y="519.2" font-size="19.5" fill="#111">50</text>
<line x1="868.5" y1="578.5" x2="902.7" y2="578.5" stroke="#111" stroke-width="2.2"/>
<text x="909.2" y="581.9" font-size="19.5" fill="#111">36</text>
<text x="909.2" y="94.5" font-size="20.5" fill="#111" textLength="35.6" lengthAdjust="spacingAndGlyphs">kDa</text>
<text x="186.8" y="190.8" font-size="25.5" fill="#111" textLength="46.8" lengthAdjust="spacingAndGlyphs">APP</text>
<text x="182.6" y="289.4" font-size="25.5" fill="#111" textLength="57.3" lengthAdjust="spacingAndGlyphs">actin</text>
<text x="176.3" y="441.5" font-size="25.5" fill="#111" textLength="70.3" lengthAdjust="spacingAndGlyphs">BACE1</text>
<text x="182.6" y="530.6" font-size="25.5" fill="#111" textLength="57.6" lengthAdjust="spacingAndGlyphs">actin</text>
<text x="271.3" y="103.4" font-size="26" fill="#111" textLength="87" lengthAdjust="spacingAndGlyphs" transform="rotate(-45 271.3 103.4)">non-AD</text>
<text x="319.2" y="94.6" font-size="27.5" fill="#111" textLength="35.9" lengthAdjust="spacingAndGlyphs">AD</text>
<line x1="285.6" y1="104.3" x2="373.3" y2="104.3" stroke="#111" stroke-width="2.4"/>
<text x="391.9" y="103.4" font-size="26" fill="#111" textLength="87" lengthAdjust="spacingAndGlyphs" transform="rotate(-45 391.9 103.4)">non-AD</text>
<text x="438.1" y="94.6" font-size="27.5" fill="#111" textLength="35.5" lengthAdjust="spacingAndGlyphs">AD</text>
<line x1="405" y1="104.3" x2="493" y2="104.3" stroke="#111" stroke-width="2.4"/>
<text x="512.5" y="103.4" font-size="26" fill="#111" textLength="87" lengthAdjust="spacingAndGlyphs" transform="rotate(-45 512.5 103.4)">non-AD</text>
<text x="560.4" y="94.6" font-size="27.5" fill="#111" textLength="36.6" lengthAdjust="spacingAndGlyphs">AD</text>
<line x1="528.2" y1="104.3" x2="616" y2="104.3" stroke="#111" stroke-width="2.4"/>
<text x="634.5" y="103.4" font-size="26" fill="#111" textLength="87" lengthAdjust="spacingAndGlyphs" transform="rotate(-45 634.5 103.4)">non-AD</text>
<text x="680.9" y="94.6" font-size="27.5" fill="#111" textLength="35.5" lengthAdjust="spacingAndGlyphs">AD</text>
<line x1="648.9" y1="104.3" x2="736.8" y2="104.3" stroke="#111" stroke-width="2.4"/>
<text x="752.7" y="103.4" font-size="26" fill="#111" textLength="87" lengthAdjust="spacingAndGlyphs" transform="rotate(-45 752.7 103.4)">non-AD</text>
<text x="803.1" y="94.6" font-size="27.5" fill="#111" textLength="36.6" lengthAdjust="spacingAndGlyphs">AD</text>
<line x1="772" y1="104.3" x2="860.3" y2="104.3" stroke="#111" stroke-width="2.4"/>
<rect x="1110.3" y="342.4" width="125.9" height="97.8" fill="#111" stroke="#111" stroke-width="3.2"/>
<rect x="1299.1" y="328.3" width="124.9" height="111.9" fill="#a0a0a0" stroke="#111" stroke-width="3.2"/>
<line x1="1173" y1="340.8" x2="1173" y2="327.5" stroke="#111" stroke-width="3.3"/>
<line x1="1140.8" y1="327.5" x2="1204.4" y2="327.5" stroke="#111" stroke-width="3.2"/>
<line x1="1360.7" y1="326.7" x2="1360.7" y2="318.2" stroke="#111" stroke-width="3.3"/>
<line x1="1328.4" y1="318.2" x2="1392.2" y2="318.2" stroke="#111" stroke-width="3.2"/>
<clipPath id="cl87"><rect x="0" y="0" width="1984" height="439.7"/></clipPath><g clip-path="url(#cl87)">
<circle cx="1173" cy="303.5" r="4.9" fill="#fff" stroke="#111" stroke-width="3.1"/>
<circle cx="1173" cy="330.5" r="4.9" fill="#fff" stroke="#111" stroke-width="3.1"/>
<circle cx="1165.8" cy="335.2" r="4.9" fill="#fff" stroke="#111" stroke-width="3.1"/>
<circle cx="1180.7" cy="349" r="4.9" fill="#fff" stroke="#111" stroke-width="3.1"/>
<circle cx="1173" cy="390.5" r="4.9" fill="#fff" stroke="#111" stroke-width="3.1"/>
<circle cx="1361.3" cy="223.8" r="4.9" fill="#fff" stroke="#111" stroke-width="3.1"/>
<circle cx="1353" cy="250.8" r="4.9" fill="#fff" stroke="#111" stroke-width="3.1"/>
<circle cx="1368.5" cy="254.7" r="4.9" fill="#fff" stroke="#111" stroke-width="3.1"/>
<circle cx="1361.3" cy="286" r="4.9" fill="#fff" stroke="#111" stroke-width="3.1"/>
<circle cx="1345.9" cy="315.1" r="4.9" fill="#fff" stroke="#111" stroke-width="3.1"/>
<circle cx="1376" cy="314.3" r="4.9" fill="#fff" stroke="#111" stroke-width="3.1"/>
<circle cx="1361.3" cy="328" r="4.9" fill="#fff" stroke="#111" stroke-width="3.1"/>
<circle cx="1322.7" cy="335.7" r="4.9" fill="#fff" stroke="#111" stroke-width="3.1"/>
<circle cx="1399.4" cy="332.6" r="4.9" fill="#fff" stroke="#111" stroke-width="3.1"/>
<circle cx="1338.1" cy="344.7" r="4.9" fill="#fff" stroke="#111" stroke-width="3.1"/>
<circle cx="1353.6" cy="346" r="4.9" fill="#fff" stroke="#111" stroke-width="3.1"/>
<circle cx="1369" cy="346" r="4.9" fill="#fff" stroke="#111" stroke-width="3.1"/>
<circle cx="1384" cy="342.6" r="4.9" fill="#fff" stroke="#111" stroke-width="3.1"/>
<circle cx="1330.4" cy="351.1" r="4.9" fill="#fff" stroke="#111" stroke-width="3.1"/>
<circle cx="1376.2" cy="353" r="4.9" fill="#fff" stroke="#111" stroke-width="3.1"/>
<circle cx="1391.6" cy="349.8" r="4.9" fill="#fff" stroke="#111" stroke-width="3.1"/>
<circle cx="1345.9" cy="357.6" r="4.9" fill="#fff" stroke="#111" stroke-width="3.1"/>
<circle cx="1361.3" cy="364.8" r="4.9" fill="#fff" stroke="#111" stroke-width="3.1"/>
<circle cx="1368.5" cy="371.7" r="4.9" fill="#fff" stroke="#111" stroke-width="3.1"/>
<circle cx="1353" cy="382" r="4.9" fill="#fff" stroke="#111" stroke-width="3.1"/>
</g>
<line x1="1079.1" y1="188.5" x2="1079.1" y2="443" stroke="#111" stroke-width="2.7"/>
<line x1="1071.3" y1="440.2" x2="1457" y2="440.2" stroke="#111" stroke-width="2.7"/>
<line x1="1071.3" y1="190" x2="1079.1" y2="190" stroke="#111" stroke-width="2.5"/>
<text x="1040.7" y="196.2" font-size="18.6" font-weight="bold" fill="#4a4a4a" textLength="28.5" lengthAdjust="spacingAndGlyphs">2.5</text>
<line x1="1071.3" y1="240" x2="1079.1" y2="240" stroke="#111" stroke-width="2.5"/>
<text x="1057.8" y="246.2" font-size="18.6" font-weight="bold" fill="#4a4a4a" textLength="11.4" lengthAdjust="spacingAndGlyphs">2</text>
<line x1="1071.3" y1="290" x2="1079.1" y2="290" stroke="#111" stroke-width="2.5"/>
<text x="1040.7" y="296.2" font-size="18.6" font-weight="bold" fill="#4a4a4a" textLength="28.5" lengthAdjust="spacingAndGlyphs">1.5</text>
<line x1="1071.3" y1="340.4" x2="1079.1" y2="340.4" stroke="#111" stroke-width="2.5"/>
<text x="1057.8" y="346.6" font-size="18.6" font-weight="bold" fill="#4a4a4a" textLength="11.4" lengthAdjust="spacingAndGlyphs">1</text>
<line x1="1071.3" y1="390.3" x2="1079.1" y2="390.3" stroke="#111" stroke-width="2.5"/>
<text x="1040.7" y="396.5" font-size="18.6" font-weight="bold" fill="#4a4a4a" textLength="28.5" lengthAdjust="spacingAndGlyphs">0.5</text>
<line x1="1071.3" y1="440.2" x2="1079.1" y2="440.2" stroke="#111" stroke-width="2.5"/>
<text x="1057.8" y="441.3" font-size="18.6" font-weight="bold" fill="#4a4a4a" textLength="11.4" lengthAdjust="spacingAndGlyphs">0</text>
<line x1="1173" y1="440.2" x2="1173" y2="448.7" stroke="#111" stroke-width="2.5"/>
<line x1="1360.7" y1="440.2" x2="1360.7" y2="448.7" stroke="#111" stroke-width="2.5"/>
<line x1="1173" y1="189.6" x2="1361.3" y2="189.6" stroke="#111" stroke-width="2.5"/>
<text x="1212.1" y="178" font-size="21" font-weight="bold" fill="#111" textLength="107.9" lengthAdjust="spacingAndGlyphs">p = 0.4288</text>
<rect x="1212.1" y="89.6" width="105.8" height="41.5" fill="none" stroke="#111" stroke-width="4.2"/>
<text x="1238.1" y="121.7" font-size="29.5" font-weight="bold" fill="#444" textLength="55.9" lengthAdjust="spacingAndGlyphs">APP</text>
<text x="1135.4" y="469.2" font-size="23" fill="#111" textLength="84.3" lengthAdjust="spacingAndGlyphs">non-AD</text>
<text x="1343.1" y="469.2" font-size="23" fill="#111" textLength="35.8" lengthAdjust="spacingAndGlyphs">AD</text>
<text x="1004.9" y="455.2" font-size="19.5" font-weight="bold" fill="#505050" textLength="283.7" lengthAdjust="spacingAndGlyphs" transform="rotate(-90 1004.9 455.2)">Relative amount of mature APP</text>
<text x="1031.3" y="406.2" font-size="19.5" font-weight="bold" fill="#505050" textLength="186.3" lengthAdjust="spacingAndGlyphs" transform="rotate(-90 1031.3 406.2)">(normalized to actin)</text>
<rect x="1637.7" y="397.3" width="124.3" height="41.3" fill="#111" stroke="#111" stroke-width="3.2"/>
<rect x="1824.6" y="351.4" width="123" height="87.2" fill="#a0a0a0" stroke="#111" stroke-width="3.2"/>
<line x1="1699.5" y1="395.7" x2="1699.5" y2="387.6" stroke="#111" stroke-width="3.3"/>
<line x1="1667.2" y1="387.6" x2="1730.6" y2="387.6" stroke="#111" stroke-width="3.2"/>
<line x1="1885.2" y1="349.8" x2="1885.2" y2="339.8" stroke="#111" stroke-width="3.3"/>
<line x1="1854.1" y1="339.8" x2="1920.2" y2="339.8" stroke="#111" stroke-width="3.2"/>
<clipPath id="cl144"><rect x="0" y="0" width="1984" height="438.1"/></clipPath><g clip-path="url(#cl144)">
<circle cx="1700.1" cy="367.9" r="4.9" fill="#fff" stroke="#111" stroke-width="3.1"/>
<circle cx="1700.1" cy="388.9" r="4.9" fill="#fff" stroke="#111" stroke-width="3.1"/>
<circle cx="1692" cy="393" r="4.9" fill="#fff" stroke="#111" stroke-width="3.1"/>
<circle cx="1707.7" cy="409.2" r="4.9" fill="#fff" stroke="#111" stroke-width="3.1"/>
<circle cx="1700.1" cy="426.2" r="4.9" fill="#fff" stroke="#111" stroke-width="3.1"/>
<circle cx="1886.5" cy="230.9" r="4.9" fill="#fff" stroke="#111" stroke-width="3.1"/>
<circle cx="1886.5" cy="275" r="4.9" fill="#fff" stroke="#111" stroke-width="3.1"/>
<circle cx="1886.5" cy="309.3" r="4.9" fill="#fff" stroke="#111" stroke-width="3.1"/>
<circle cx="1871.1" cy="323.3" r="4.9" fill="#fff" stroke="#111" stroke-width="3.1"/>
<circle cx="1901.3" cy="325.5" r="4.9" fill="#fff" stroke="#111" stroke-width="3.1"/>
<circle cx="1886.5" cy="335.7" r="4.9" fill="#fff" stroke="#111" stroke-width="3.1"/>
<circle cx="1863.5" cy="338.4" r="4.9" fill="#fff" stroke="#111" stroke-width="3.1"/>
<circle cx="1916.2" cy="341.7" r="4.9" fill="#fff" stroke="#111" stroke-width="3.1"/>
<circle cx="1878.9" cy="344.9" r="4.9" fill="#fff" stroke="#111" stroke-width="3.1"/>
<circle cx="1901.3" cy="353.3" r="4.9" fill="#fff" stroke="#111" stroke-width="3.1"/>
<circle cx="1908.9" cy="357.1" r="4.9" fill="#fff" stroke="#111" stroke-width="3.1"/>
<circle cx="1863.5" cy="360.6" r="4.9" fill="#fff" stroke="#111" stroke-width="3.1"/>
<circle cx="1893.8" cy="361.1" r="4.9" fill="#fff" stroke="#111" stroke-width="3.1"/>
<circle cx="1878.9" cy="368.7" r="4.9" fill="#fff" stroke="#111" stroke-width="3.1"/>
<circle cx="1863.5" cy="383" r="4.9" fill="#fff" stroke="#111" stroke-width="3.1"/>
<circle cx="1878.9" cy="390.3" r="4.9" fill="#fff" stroke="#111" stroke-width="3.1"/>
<circle cx="1901.3" cy="393.8" r="4.9" fill="#fff" stroke="#111" stroke-width="3.1"/>
<circle cx="1916.2" cy="388.9" r="4.9" fill="#fff" stroke="#111" stroke-width="3.1"/>
<circle cx="1893.8" cy="408.4" r="4.9" fill="#fff" stroke="#111" stroke-width="3.1"/>
<circle cx="1878.9" cy="416.5" r="4.9" fill="#fff" stroke="#111" stroke-width="3.1"/>
</g>
<line x1="1606.2" y1="188.5" x2="1606.2" y2="441.4" stroke="#111" stroke-width="2.7"/>
<line x1="1598.8" y1="438.6" x2="1981" y2="438.6" stroke="#111" stroke-width="2.7"/>
<line x1="1598.8" y1="190.2" x2="1606.2" y2="190.2" stroke="#111" stroke-width="2.5"/>
<text x="1581" y="196.4" font-size="18.6" font-weight="bold" fill="#4a4a4a" textLength="11.4" lengthAdjust="spacingAndGlyphs">5</text>
<line x1="1598.8" y1="240" x2="1606.2" y2="240" stroke="#111" stroke-width="2.5"/>
<text x="1581" y="246.2" font-size="18.6" font-weight="bold" fill="#4a4a4a" textLength="11.4" lengthAdjust="spacingAndGlyphs">4</text>
<line x1="1598.8" y1="289.9" x2="1606.2" y2="289.9" stroke="#111" stroke-width="2.5"/>
<text x="1581" y="296.1" font-size="18.6" font-weight="bold" fill="#4a4a4a" textLength="11.4" lengthAdjust="spacingAndGlyphs">3</text>
<line x1="1598.8" y1="339.6" x2="1606.2" y2="339.6" stroke="#111" stroke-width="2.5"/>
<text x="1581" y="345.8" font-size="18.6" font-weight="bold" fill="#4a4a4a" textLength="11.4" lengthAdjust="spacingAndGlyphs">2</text>
<line x1="1598.8" y1="389.2" x2="1606.2" y2="389.2" stroke="#111" stroke-width="2.5"/>
<text x="1581" y="395.4" font-size="18.6" font-weight="bold" fill="#4a4a4a" textLength="11.4" lengthAdjust="spacingAndGlyphs">1</text>
<line x1="1598.8" y1="438.6" x2="1606.2" y2="438.6" stroke="#111" stroke-width="2.5"/>
<text x="1581" y="440.1" font-size="18.6" font-weight="bold" fill="#4a4a4a" textLength="11.4" lengthAdjust="spacingAndGlyphs">0</text>
<line x1="1699.5" y1="438.6" x2="1699.5" y2="447.1" stroke="#111" stroke-width="2.5"/>
<line x1="1885.2" y1="438.6" x2="1885.2" y2="447.1" stroke="#111" stroke-width="2.5"/>
<line x1="1696" y1="190.4" x2="1884.3" y2="190.4" stroke="#111" stroke-width="2.5"/>
<text x="1723.9" y="179.1" font-size="21" font-weight="bold" fill="#111" textLength="127.3" lengthAdjust="spacingAndGlyphs">**p = 0.0049</text>
<rect x="1737.3" y="90.7" width="105.8" height="40.9" fill="none" stroke="#111" stroke-width="4.2"/>
<text x="1748.2" y="121.5" font-size="29.5" font-weight="bold" fill="#444" textLength="87.3" lengthAdjust="spacingAndGlyphs">BACE1</text>
<text x="1656.9" y="467.3" font-size="23" fill="#111" textLength="85.1" lengthAdjust="spacingAndGlyphs">non-AD</text>
<text x="1866.2" y="467.3" font-size="23" fill="#111" textLength="36.5" lengthAdjust="spacingAndGlyphs">AD</text>
<text x="1543" y="426.3" font-size="19" font-weight="bold" fill="#505050" textLength="232.7" lengthAdjust="spacingAndGlyphs" transform="rotate(-90 1543 426.3)">Relative amount of BACE1</text>
<text x="1569.6" y="403" font-size="19" font-weight="bold" fill="#505050" textLength="186.1" lengthAdjust="spacingAndGlyphs" transform="rotate(-90 1569.6 403)">(normalized to actin)</text>
<line x1="343" y1="981.6" x2="711" y2="981.6" stroke="#666" stroke-width="2" stroke-dasharray="2 6.1"/>
<rect x="366.9" y="962.1" width="125.4" height="40.1" fill="#111" stroke="#111" stroke-width="3.2"/>
<rect x="555.3" y="931.6" width="124.7" height="70.6" fill="#a0a0a0" stroke="#111" stroke-width="3.2"/>
<text x="712.5" y="983.8" font-size="17" font-weight="bold" fill="#505050" textLength="40.6" lengthAdjust="spacingAndGlyphs" stroke="#505050" stroke-width="0.5">LLOD</text>
<line x1="429.8" y1="960.5" x2="429.8" y2="955.6" stroke="#111" stroke-width="3.3"/>
<line x1="396.6" y1="955.6" x2="460.7" y2="955.6" stroke="#111" stroke-width="3.2"/>
<line x1="616.8" y1="930" x2="616.8" y2="921.3" stroke="#111" stroke-width="3.3"/>
<line x1="585.2" y1="921.3" x2="648.4" y2="921.3" stroke="#111" stroke-width="3.2"/>
<clipPath id="cl203"><rect x="0" y="0" width="1984" height="1001.7"/></clipPath><g clip-path="url(#cl203)">
<circle cx="429.8" cy="943" r="4.9" fill="#fff" stroke="#111" stroke-width="3.1"/>
<circle cx="415.2" cy="958.9" r="4.9" fill="#fff" stroke="#111" stroke-width="3.1"/>
<circle cx="445" cy="958.9" r="4.9" fill="#fff" stroke="#111" stroke-width="3.1"/>
<circle cx="429.8" cy="964.5" r="4.9" fill="#fff" stroke="#111" stroke-width="3.1"/>
<circle cx="429.8" cy="983.8" r="4.9" fill="#fff" stroke="#111" stroke-width="3.1"/>
<circle cx="617.8" cy="797.7" r="4.9" fill="#fff" stroke="#111" stroke-width="3.1"/>
<circle cx="617.8" cy="877.5" r="4.9" fill="#fff" stroke="#111" stroke-width="3.1"/>
<circle cx="625.1" cy="888.5" r="4.9" fill="#fff" stroke="#111" stroke-width="3.1"/>
<circle cx="601.9" cy="896.4" r="4.9" fill="#fff" stroke="#111" stroke-width="3.1"/>
<circle cx="609.2" cy="904.7" r="4.9" fill="#fff" stroke="#111" stroke-width="3.1"/>
<circle cx="632.5" cy="914.7" r="4.9" fill="#fff" stroke="#111" stroke-width="3.1"/>
<circle cx="625.1" cy="922.3" r="4.9" fill="#fff" stroke="#111" stroke-width="3.1"/>
<circle cx="609.2" cy="931.3" r="4.9" fill="#fff" stroke="#111" stroke-width="3.1"/>
<circle cx="564.7" cy="941.6" r="4.9" fill="#fff" stroke="#111" stroke-width="3.1"/>
<circle cx="663.3" cy="941.6" r="4.9" fill="#fff" stroke="#111" stroke-width="3.1"/>
<circle cx="580.3" cy="948.9" r="4.9" fill="#fff" stroke="#111" stroke-width="3.1"/>
<circle cx="632.5" cy="949.9" r="4.9" fill="#fff" stroke="#111" stroke-width="3.1"/>
<circle cx="647.7" cy="947.3" r="4.9" fill="#fff" stroke="#111" stroke-width="3.1"/>
<circle cx="601.9" cy="955.6" r="4.9" fill="#fff" stroke="#111" stroke-width="3.1"/>
<circle cx="617.8" cy="956.6" r="4.9" fill="#fff" stroke="#111" stroke-width="3.1"/>
<circle cx="587.6" cy="960.5" r="4.9" fill="#fff" stroke="#111" stroke-width="3.1"/>
<circle cx="647.7" cy="962.9" r="4.9" fill="#fff" stroke="#111" stroke-width="3.1"/>
<circle cx="601.9" cy="971.2" r="4.9" fill="#fff" stroke="#111" stroke-width="3.1"/>
<circle cx="632.5" cy="972.2" r="4.9" fill="#fff" stroke="#111" stroke-width="3.1"/>
<circle cx="617.8" cy="975.5" r="4.9" fill="#fff" stroke="#111" stroke-width="3.1"/>
</g>
<line x1="335.3" y1="749.6" x2="335.3" y2="1005" stroke="#111" stroke-width="2.7"/>
<line x1="327.8" y1="1002.2" x2="713.1" y2="1002.2" stroke="#111" stroke-width="2.7"/>
<line x1="327.8" y1="750.6" x2="335.3" y2="750.6" stroke="#111" stroke-width="2.5"/>
<text x="311.5" y="757.2" font-size="19.8" font-weight="bold" fill="#4a4a4a" textLength="12" lengthAdjust="spacingAndGlyphs">8</text>
<line x1="327.8" y1="814.4" x2="335.3" y2="814.4" stroke="#111" stroke-width="2.5"/>
<text x="311.5" y="821" font-size="19.8" font-weight="bold" fill="#4a4a4a" textLength="12" lengthAdjust="spacingAndGlyphs">6</text>
<line x1="327.8" y1="876.8" x2="335.3" y2="876.8" stroke="#111" stroke-width="2.5"/>
<text x="311.5" y="883.4" font-size="19.8" font-weight="bold" fill="#4a4a4a" textLength="12" lengthAdjust="spacingAndGlyphs">4</text>
<line x1="327.8" y1="939.6" x2="335.3" y2="939.6" stroke="#111" stroke-width="2.5"/>
<text x="311.5" y="946.2" font-size="19.8" font-weight="bold" fill="#4a4a4a" textLength="12" lengthAdjust="spacingAndGlyphs">2</text>
<line x1="327.8" y1="1002.2" x2="335.3" y2="1002.2" stroke="#111" stroke-width="2.5"/>
<text x="311.5" y="1002.2" font-size="19.8" font-weight="bold" fill="#4a4a4a" textLength="12" lengthAdjust="spacingAndGlyphs">0</text>
<line x1="429.8" y1="1002.2" x2="429.8" y2="1010.7" stroke="#111" stroke-width="2.5"/>
<line x1="616.8" y1="1002.2" x2="616.8" y2="1010.7" stroke="#111" stroke-width="2.5"/>
<line x1="429.1" y1="750.6" x2="617.8" y2="750.6" stroke="#111" stroke-width="2.5"/>
<text x="467" y="740.3" font-size="21" font-weight="bold" fill="#111" textLength="117.8" lengthAdjust="spacingAndGlyphs">*p = 0.0136</text>
<rect x="468.4" y="660.3" width="114.1" height="42.3" fill="none" stroke="#111" stroke-width="4.2"/>
<text x="491.4" y="689.8" font-size="29.5" font-weight="bold" fill="#444" textLength="72.3" lengthAdjust="spacingAndGlyphs">Aβ34</text>
<text x="391.2" y="1030.3" font-size="23" fill="#111" textLength="84.2" lengthAdjust="spacingAndGlyphs">non-AD</text>
<text x="600.5" y="1030.3" font-size="23" fill="#111" textLength="35.3" lengthAdjust="spacingAndGlyphs">AD</text>
<text x="284.9" y="930" font-size="19" font-weight="bold" fill="#505050" textLength="124.5" lengthAdjust="spacingAndGlyphs" transform="rotate(-90 284.9 930)">Aβ34 (pg/mg)</text>
<rect x="972" y="1001.4" width="124.8" height="0.3" fill="#111" stroke="#111" stroke-width="3.2"/>
<rect x="1160.8" y="971.4" width="123.8" height="30.3" fill="#a0a0a0" stroke="#111" stroke-width="3.2"/>
<text x="1324.7" y="1000.8" font-size="17" font-weight="bold" fill="#505050" textLength="40.5" lengthAdjust="spacingAndGlyphs" stroke="#505050" stroke-width="0.5">LLOD</text>
<line x1="1222.8" y1="969.8" x2="1222.8" y2="957.6" stroke="#111" stroke-width="3.3"/>
<line x1="1190.7" y1="957.6" x2="1253.4" y2="957.6" stroke="#111" stroke-width="3.2"/>
<clipPath id="cl256"><rect x="0" y="0" width="1984" height="1001.2"/></clipPath><g clip-path="url(#cl256)">
<circle cx="1004.8" cy="1000.2" r="4.9" fill="#fff" stroke="#111" stroke-width="3.1"/>
<circle cx="1019.6" cy="1000.2" r="4.9" fill="#fff" stroke="#111" stroke-width="3.1"/>
<circle cx="1034.7" cy="1000.2" r="4.9" fill="#fff" stroke="#111" stroke-width="3.1"/>
<circle cx="1049.8" cy="1000.2" r="4.9" fill="#fff" stroke="#111" stroke-width="3.1"/>
<circle cx="1064.6" cy="1000.2" r="4.9" fill="#fff" stroke="#111" stroke-width="3.1"/>
<circle cx="1222.8" cy="797.8" r="4.9" fill="#fff" stroke="#111" stroke-width="3.1"/>
<circle cx="1230.9" cy="892.7" r="4.9" fill="#fff" stroke="#111" stroke-width="3.1"/>
<circle cx="1215.4" cy="907.8" r="4.9" fill="#fff" stroke="#111" stroke-width="3.1"/>
<circle cx="1215.4" cy="932.5" r="4.9" fill="#fff" stroke="#111" stroke-width="3.1"/>
<circle cx="1230.2" cy="944.8" r="4.9" fill="#fff" stroke="#111" stroke-width="3.1"/>
<circle cx="1165.9" cy="992" r="4.9" fill="#fff" stroke="#111" stroke-width="3.1"/>
<circle cx="1174.6" cy="995.6" r="4.9" fill="#fff" stroke="#111" stroke-width="3.1"/>
<circle cx="1183.3" cy="996.9" r="4.9" fill="#fff" stroke="#111" stroke-width="3.1"/>
<circle cx="1192.3" cy="997.8" r="4.9" fill="#fff" stroke="#111" stroke-width="3.1"/>
<circle cx="1201.3" cy="998.5" r="4.9" fill="#fff" stroke="#111" stroke-width="3.1"/>
<circle cx="1210" cy="998.8" r="4.9" fill="#fff" stroke="#111" stroke-width="3.1"/>
<circle cx="1218.6" cy="999.4" r="4.9" fill="#fff" stroke="#111" stroke-width="3.1"/>
<circle cx="1227.7" cy="999.4" r="4.9" fill="#fff" stroke="#111" stroke-width="3.1"/>
<circle cx="1236.3" cy="998.8" r="4.9" fill="#fff" stroke="#111" stroke-width="3.1"/>
<circle cx="1245.3" cy="997.8" r="4.9" fill="#fff" stroke="#111" stroke-width="3.1"/>
<circle cx="1253.4" cy="996.9" r="4.9" fill="#fff" stroke="#111" stroke-width="3.1"/>
<circle cx="1262.1" cy="995.6" r="4.9" fill="#fff" stroke="#111" stroke-width="3.1"/>
<circle cx="1271.1" cy="993.6" r="4.9" fill="#fff" stroke="#111" stroke-width="3.1"/>
<circle cx="1279.7" cy="986.6" r="4.9" fill="#fff" stroke="#111" stroke-width="3.1"/>
</g>
<line x1="940.5" y1="749.2" x2="940.5" y2="1004.5" stroke="#111" stroke-width="2.7"/>
<line x1="932.5" y1="1001.7" x2="1318.3" y2="1001.7" stroke="#111" stroke-width="2.7"/>
<line x1="932.5" y1="750.2" x2="940.5" y2="750.2" stroke="#111" stroke-width="2.5"/>
<text x="893.7" y="756.8" font-size="19.8" font-weight="bold" fill="#4a4a4a" textLength="34.2" lengthAdjust="spacingAndGlyphs">250</text>
<line x1="932.5" y1="800.7" x2="940.5" y2="800.7" stroke="#111" stroke-width="2.5"/>
<text x="893.7" y="807.3" font-size="19.8" font-weight="bold" fill="#4a4a4a" textLength="34.2" lengthAdjust="spacingAndGlyphs">200</text>
<line x1="932.5" y1="850.9" x2="940.5" y2="850.9" stroke="#111" stroke-width="2.5"/>
<text x="893.7" y="857.5" font-size="19.8" font-weight="bold" fill="#4a4a4a" textLength="34.2" lengthAdjust="spacingAndGlyphs">150</text>
<line x1="932.5" y1="900.7" x2="940.5" y2="900.7" stroke="#111" stroke-width="2.5"/>
<text x="893.7" y="907.3" font-size="19.8" font-weight="bold" fill="#4a4a4a" textLength="34.2" lengthAdjust="spacingAndGlyphs">100</text>
<line x1="932.5" y1="951.2" x2="940.5" y2="951.2" stroke="#111" stroke-width="2.5"/>
<text x="904.8" y="957.8" font-size="19.8" font-weight="bold" fill="#4a4a4a" textLength="23.1" lengthAdjust="spacingAndGlyphs">50</text>
<line x1="932.5" y1="1001.7" x2="940.5" y2="1001.7" stroke="#111" stroke-width="2.5"/>
<text x="915.9" y="1001.2" font-size="19.8" font-weight="bold" fill="#4a4a4a" textLength="12" lengthAdjust="spacingAndGlyphs">0</text>
<line x1="1034.7" y1="1001.7" x2="1034.7" y2="1010.2" stroke="#111" stroke-width="2.5"/>
<line x1="1222.8" y1="1001.7" x2="1222.8" y2="1010.2" stroke="#111" stroke-width="2.5"/>
<line x1="1033.8" y1="750.2" x2="1222.2" y2="750.2" stroke="#111" stroke-width="2.5"/>
<text x="1071.4" y="740.6" font-size="21" font-weight="bold" fill="#111" textLength="118.2" lengthAdjust="spacingAndGlyphs">*p = 0.0227</text>
<rect x="1073.1" y="659.7" width="113.8" height="42.4" fill="none" stroke="#111" stroke-width="4.2"/>
<text x="1095.6" y="689.1" font-size="29.5" font-weight="bold" fill="#444" textLength="72" lengthAdjust="spacingAndGlyphs">Aβ40</text>
<text x="998" y="1030" font-size="23" fill="#111" textLength="85.4" lengthAdjust="spacingAndGlyphs">non-AD</text>
<text x="1207" y="1030" font-size="23" fill="#111" textLength="36.5" lengthAdjust="spacingAndGlyphs">AD</text>
<text x="872.2" y="931.7" font-size="19" font-weight="bold" fill="#505050" textLength="125.2" lengthAdjust="spacingAndGlyphs" transform="rotate(-90 872.2 931.7)">Aβ40 (pg/mg)</text>
<rect x="1576.2" y="996.2" width="125.2" height="5.6" fill="#111" stroke="#111" stroke-width="3.2"/>
<rect x="1765.3" y="876.7" width="122.9" height="125.1" fill="#a0a0a0" stroke="#111" stroke-width="3.2"/>
<text x="1928" y="1000.4" font-size="17" font-weight="bold" fill="#505050" textLength="39.4" lengthAdjust="spacingAndGlyphs" stroke="#505050" stroke-width="0.5">LLOD</text>
<line x1="1639.4" y1="994.6" x2="1639.4" y2="993.3" stroke="#111" stroke-width="3.3"/>
<line x1="1608" y1="993.3" x2="1672" y2="993.3" stroke="#111" stroke-width="3.2"/>
<line x1="1826.3" y1="875.1" x2="1826.3" y2="866.6" stroke="#111" stroke-width="3.3"/>
<line x1="1793.7" y1="866.6" x2="1857.6" y2="866.6" stroke="#111" stroke-width="3.2"/>
<clipPath id="cl312"><rect x="0" y="0" width="1984" height="1001.3"/></clipPath><g clip-path="url(#cl312)">
<circle cx="1609.1" cy="986.8" r="4.9" fill="#fff" stroke="#111" stroke-width="3.1"/>
<circle cx="1668.5" cy="994.6" r="4.9" fill="#fff" stroke="#111" stroke-width="3.1"/>
<circle cx="1623.8" cy="998.7" r="4.9" fill="#fff" stroke="#111" stroke-width="3.1"/>
<circle cx="1638.5" cy="999.6" r="4.9" fill="#fff" stroke="#111" stroke-width="3.1"/>
<circle cx="1653.5" cy="999.6" r="4.9" fill="#fff" stroke="#111" stroke-width="3.1"/>
<circle cx="1811.6" cy="815.6" r="4.9" fill="#fff" stroke="#111" stroke-width="3.1"/>
<circle cx="1826.3" cy="815.6" r="4.9" fill="#fff" stroke="#111" stroke-width="3.1"/>
<circle cx="1841.3" cy="814.7" r="4.9" fill="#fff" stroke="#111" stroke-width="3.1"/>
<circle cx="1826.3" cy="835" r="4.9" fill="#fff" stroke="#111" stroke-width="3.1"/>
<circle cx="1811.6" cy="850.7" r="4.9" fill="#fff" stroke="#111" stroke-width="3.1"/>
<circle cx="1826.3" cy="853.2" r="4.9" fill="#fff" stroke="#111" stroke-width="3.1"/>
<circle cx="1841.3" cy="850" r="4.9" fill="#fff" stroke="#111" stroke-width="3.1"/>
<circle cx="1833.5" cy="861.6" r="4.9" fill="#fff" stroke="#111" stroke-width="3.1"/>
<circle cx="1811.6" cy="870.4" r="4.9" fill="#fff" stroke="#111" stroke-width="3.1"/>
<circle cx="1818.8" cy="872.9" r="4.9" fill="#fff" stroke="#111" stroke-width="3.1"/>
<circle cx="1788.1" cy="893.9" r="4.9" fill="#fff" stroke="#111" stroke-width="3.1"/>
<circle cx="1803.8" cy="897.6" r="4.9" fill="#fff" stroke="#111" stroke-width="3.1"/>
<circle cx="1818.8" cy="903.9" r="4.9" fill="#fff" stroke="#111" stroke-width="3.1"/>
<circle cx="1833.5" cy="897.6" r="4.9" fill="#fff" stroke="#111" stroke-width="3.1"/>
<circle cx="1841.3" cy="887.6" r="4.9" fill="#fff" stroke="#111" stroke-width="3.1"/>
<circle cx="1849.1" cy="895.4" r="4.9" fill="#fff" stroke="#111" stroke-width="3.1"/>
<circle cx="1864.8" cy="889.2" r="4.9" fill="#fff" stroke="#111" stroke-width="3.1"/>
<circle cx="1826.3" cy="919.8" r="4.9" fill="#fff" stroke="#111" stroke-width="3.1"/>
<circle cx="1833.5" cy="938.3" r="4.9" fill="#fff" stroke="#111" stroke-width="3.1"/>
<circle cx="1818.8" cy="950.8" r="4.9" fill="#fff" stroke="#111" stroke-width="3.1"/>
</g>
<line x1="1544.9" y1="749.5" x2="1544.9" y2="1004.6" stroke="#111" stroke-width="2.7"/>
<line x1="1537.1" y1="1001.8" x2="1922" y2="1001.8" stroke="#111" stroke-width="2.7"/>
<line x1="1537.1" y1="750.5" x2="1544.9" y2="750.5" stroke="#111" stroke-width="2.5"/>
<text x="1509.3" y="757.1" font-size="19.8" font-weight="bold" fill="#4a4a4a" textLength="23.1" lengthAdjust="spacingAndGlyphs">80</text>
<line x1="1537.1" y1="813.4" x2="1544.9" y2="813.4" stroke="#111" stroke-width="2.5"/>
<text x="1509.3" y="820" font-size="19.8" font-weight="bold" fill="#4a4a4a" textLength="23.1" lengthAdjust="spacingAndGlyphs">60</text>
<line x1="1537.1" y1="876.6" x2="1544.9" y2="876.6" stroke="#111" stroke-width="2.5"/>
<text x="1509.3" y="883.2" font-size="19.8" font-weight="bold" fill="#4a4a4a" textLength="23.1" lengthAdjust="spacingAndGlyphs">40</text>
<line x1="1537.1" y1="939.2" x2="1544.9" y2="939.2" stroke="#111" stroke-width="2.5"/>
<text x="1509.3" y="945.8" font-size="19.8" font-weight="bold" fill="#4a4a4a" textLength="23.1" lengthAdjust="spacingAndGlyphs">20</text>
<line x1="1537.1" y1="1001.8" x2="1544.9" y2="1001.8" stroke="#111" stroke-width="2.5"/>
<text x="1520.4" y="1001.3" font-size="19.8" font-weight="bold" fill="#4a4a4a" textLength="12" lengthAdjust="spacingAndGlyphs">0</text>
<line x1="1639.4" y1="1001.8" x2="1639.4" y2="1010.3" stroke="#111" stroke-width="2.5"/>
<line x1="1826.3" y1="1001.8" x2="1826.3" y2="1010.3" stroke="#111" stroke-width="2.5"/>
<line x1="1637.2" y1="750.5" x2="1826.3" y2="750.5" stroke="#111" stroke-width="2.5"/>
<text x="1668.5" y="740.5" font-size="21" font-weight="bold" fill="#111" textLength="134.9" lengthAdjust="spacingAndGlyphs">***p &lt; 0.0001</text>
<rect x="1675.3" y="659.7" width="113.2" height="42.7" fill="none" stroke="#111" stroke-width="4.2"/>
<text x="1697.1" y="688.9" font-size="29.5" font-weight="bold" fill="#444" textLength="72.3" lengthAdjust="spacingAndGlyphs">Aβ42</text>
<text x="1599.8" y="1030" font-size="23" fill="#111" textLength="84.8" lengthAdjust="spacingAndGlyphs">non-AD</text>
<text x="1808.6" y="1030" font-size="23" fill="#111" textLength="35.7" lengthAdjust="spacingAndGlyphs">AD</text>
<text x="1487.5" y="931.7" font-size="19" font-weight="bold" fill="#505050" textLength="124.9" lengthAdjust="spacingAndGlyphs" transform="rotate(-90 1487.5 931.7)">Aβ42 (pg/mg)</text>
<rect x="366.8" y="1440.4" width="83.8" height="104.1" fill="#111" stroke="#111" stroke-width="3.2"/>
<rect x="493.6" y="1497" width="82.9" height="47.5" fill="#a0a0a0" stroke="#111" stroke-width="3.2"/>
<rect x="620.1" y="1522.2" width="82.9" height="22.3" fill="#7f7f7f" stroke="#111" stroke-width="3.2"/>
<line x1="408.7" y1="1438.8" x2="408.7" y2="1418.6" stroke="#111" stroke-width="3.3"/>
<line x1="386.9" y1="1418.6" x2="429.8" y2="1418.6" stroke="#111" stroke-width="3.2"/>
<line x1="535.5" y1="1495.4" x2="535.5" y2="1488.6" stroke="#111" stroke-width="3.3"/>
<line x1="520.6" y1="1488.6" x2="550.1" y2="1488.6" stroke="#111" stroke-width="3.2"/>
<line x1="661.1" y1="1520.6" x2="661.1" y2="1515" stroke="#111" stroke-width="3.3"/>
<line x1="646.5" y1="1515" x2="682.2" y2="1515" stroke="#111" stroke-width="3.2"/>
<clipPath id="cl369"><rect x="0" y="0" width="1984" height="1544"/></clipPath><g clip-path="url(#cl369)">
<circle cx="408.7" cy="1341.8" r="4.9" fill="#fff" stroke="#111" stroke-width="3.1"/>
<circle cx="408.7" cy="1424.8" r="4.9" fill="#fff" stroke="#111" stroke-width="3.1"/>
<circle cx="400.9" cy="1454.4" r="4.9" fill="#fff" stroke="#111" stroke-width="3.1"/>
<circle cx="424.2" cy="1465.2" r="4.9" fill="#fff" stroke="#111" stroke-width="3.1"/>
<circle cx="416.4" cy="1469.3" r="4.9" fill="#fff" stroke="#111" stroke-width="3.1"/>
<circle cx="400.9" cy="1481.7" r="4.9" fill="#fff" stroke="#111" stroke-width="3.1"/>
<circle cx="512.8" cy="1483" r="4.9" fill="#fff" stroke="#111" stroke-width="3.1"/>
<circle cx="535.5" cy="1481.7" r="4.9" fill="#fff" stroke="#111" stroke-width="3.1"/>
<circle cx="527.7" cy="1494.1" r="4.9" fill="#fff" stroke="#111" stroke-width="3.1"/>
<circle cx="543.9" cy="1497.9" r="4.9" fill="#fff" stroke="#111" stroke-width="3.1"/>
<circle cx="558.5" cy="1493.2" r="4.9" fill="#fff" stroke="#111" stroke-width="3.1"/>
<circle cx="535.5" cy="1521.2" r="4.9" fill="#fff" stroke="#111" stroke-width="3.1"/>
<circle cx="662" cy="1496.3" r="4.9" fill="#fff" stroke="#111" stroke-width="3.1"/>
<circle cx="654.2" cy="1516.5" r="4.9" fill="#fff" stroke="#111" stroke-width="3.1"/>
<circle cx="669.2" cy="1518.1" r="4.9" fill="#fff" stroke="#111" stroke-width="3.1"/>
<circle cx="646.5" cy="1528" r="4.9" fill="#fff" stroke="#111" stroke-width="3.1"/>
<circle cx="677.5" cy="1531.4" r="4.9" fill="#fff" stroke="#111" stroke-width="3.1"/>
<circle cx="662" cy="1537.7" r="4.9" fill="#fff" stroke="#111" stroke-width="3.1"/>
</g>
<line x1="345.9" y1="1288.6" x2="345.9" y2="1547.3" stroke="#111" stroke-width="2.7"/>
<line x1="337.2" y1="1544.5" x2="727.3" y2="1544.5" stroke="#111" stroke-width="2.7"/>
<line x1="337.2" y1="1289.6" x2="345.9" y2="1289.6" stroke="#111" stroke-width="2.5"/>
<text x="308.6" y="1296.2" font-size="19.8" font-weight="bold" fill="#4a4a4a" textLength="23.1" lengthAdjust="spacingAndGlyphs">40</text>
<line x1="337.2" y1="1353.3" x2="345.9" y2="1353.3" stroke="#111" stroke-width="2.5"/>
<text x="308.6" y="1359.9" font-size="19.8" font-weight="bold" fill="#4a4a4a" textLength="23.1" lengthAdjust="spacingAndGlyphs">30</text>
<line x1="337.2" y1="1417.1" x2="345.9" y2="1417.1" stroke="#111" stroke-width="2.5"/>
<text x="308.6" y="1423.7" font-size="19.8" font-weight="bold" fill="#4a4a4a" textLength="23.1" lengthAdjust="spacingAndGlyphs">20</text>
<line x1="337.2" y1="1480.8" x2="345.9" y2="1480.8" stroke="#111" stroke-width="2.5"/>
<text x="308.6" y="1487.4" font-size="19.8" font-weight="bold" fill="#4a4a4a" textLength="23.1" lengthAdjust="spacingAndGlyphs">10</text>
<line x1="337.2" y1="1544.5" x2="345.9" y2="1544.5" stroke="#111" stroke-width="2.5"/>
<text x="319.7" y="1542.9" font-size="19.8" font-weight="bold" fill="#4a4a4a" textLength="12" lengthAdjust="spacingAndGlyphs">0</text>
<line x1="408.7" y1="1544.5" x2="408.7" y2="1553" stroke="#111" stroke-width="2.5"/>
<line x1="535.5" y1="1544.5" x2="535.5" y2="1553" stroke="#111" stroke-width="2.5"/>
<line x1="661.1" y1="1544.5" x2="661.1" y2="1553" stroke="#111" stroke-width="2.5"/>
<line x1="408.7" y1="1257.6" x2="535.3" y2="1257.6" stroke="#111" stroke-width="2.5"/>
<text x="468.7" y="1256.2" font-size="16" font-weight="bold" fill="#111" textLength="9.2" lengthAdjust="spacingAndGlyphs">*</text>
<path d="M408.7 1313.6 H534.9 V1418.6" fill="none" stroke="#111" stroke-width="2.5"/>
<text x="445.6" y="1307.9" font-size="21" font-weight="bold" fill="#111" textLength="45.8" lengthAdjust="spacingAndGlyphs">53%</text>
<text x="436.9" y="1299.2" font-size="15" font-weight="bold" font-family="'DejaVu Sans', sans-serif" fill="#111" textLength="9" lengthAdjust="spacingAndGlyphs">~</text>
<text transform="translate(491.8 1311.2) scale(1 1.3)" x="0" y="0" font-size="19" font-weight="bold" font-family="'DejaVu Sans', sans-serif" fill="#111" textLength="10" lengthAdjust="spacingAndGlyphs">↓</text>
<rect x="458" y="1145.6" width="113.9" height="43.1" fill="none" stroke="#111" stroke-width="4.2"/>
<text x="479.9" y="1174.6" font-size="29.5" font-weight="bold" fill="#444" textLength="71.9" lengthAdjust="spacingAndGlyphs">Aβ34</text>
<text x="390.3" y="1574.9" font-size="22" fill="#111" textLength="36.8" lengthAdjust="spacingAndGlyphs">+/+</text>
<text x="517.7" y="1574.9" font-size="22" fill="#111" textLength="30.6" lengthAdjust="spacingAndGlyphs">+/-</text>
<text x="646.1" y="1574.9" font-size="22" fill="#111" textLength="25" lengthAdjust="spacingAndGlyphs">-/-</text>
<text x="444" y="1608.2" font-size="23" fill="#111" textLength="190.5" lengthAdjust="spacingAndGlyphs">BACE1 genotype</text>
<text x="280.9" y="1487.4" font-size="19" font-weight="bold" fill="#505050" textLength="124.4" lengthAdjust="spacingAndGlyphs" transform="rotate(-90 280.9 1487.4)">Aβ34 (pg/mg)</text>
<line x1="407.1" y1="1584" x2="658.9" y2="1584" stroke="#111" stroke-width="2.5"/>
<rect x="969.5" y="1404.7" width="85.3" height="138.2" fill="#111" stroke="#111" stroke-width="3.2"/>
<rect x="1096.9" y="1449.7" width="84.5" height="93.2" fill="#a0a0a0" stroke="#111" stroke-width="3.2"/>
<rect x="1223.7" y="1517.2" width="85.1" height="25.7" fill="#7f7f7f" stroke="#111" stroke-width="3.2"/>
<line x1="1012.3" y1="1403.1" x2="1012.3" y2="1378.2" stroke="#111" stroke-width="3.3"/>
<line x1="989.6" y1="1378.2" x2="1033.1" y2="1378.2" stroke="#111" stroke-width="3.2"/>
<line x1="1138.8" y1="1448.1" x2="1138.8" y2="1437.3" stroke="#111" stroke-width="3.3"/>
<line x1="1117" y1="1437.3" x2="1160.6" y2="1437.3" stroke="#111" stroke-width="3.2"/>
<line x1="1266.3" y1="1515.6" x2="1266.3" y2="1511.9" stroke="#111" stroke-width="3.3"/>
<line x1="1244.5" y1="1511.9" x2="1288" y2="1511.9" stroke="#111" stroke-width="3.2"/>
<clipPath id="cl427"><rect x="0" y="0" width="1984" height="1542.4"/></clipPath><g clip-path="url(#cl427)">
<circle cx="1012.3" cy="1304.5" r="4.9" fill="#fff" stroke="#111" stroke-width="3.1"/>
<circle cx="1012.3" cy="1345.6" r="4.9" fill="#fff" stroke="#111" stroke-width="3.1"/>
<circle cx="1012.3" cy="1421.1" r="4.9" fill="#fff" stroke="#111" stroke-width="3.1"/>
<circle cx="1012.3" cy="1441.9" r="4.9" fill="#fff" stroke="#111" stroke-width="3.1"/>
<circle cx="1019.8" cy="1453.7" r="4.9" fill="#fff" stroke="#111" stroke-width="3.1"/>
<circle cx="1004.5" cy="1459.6" r="4.9" fill="#fff" stroke="#111" stroke-width="3.1"/>
<circle cx="1147.5" cy="1416.4" r="4.9" fill="#fff" stroke="#111" stroke-width="3.1"/>
<circle cx="1132" cy="1426.4" r="4.9" fill="#fff" stroke="#111" stroke-width="3.1"/>
<circle cx="1124.2" cy="1449.1" r="4.9" fill="#fff" stroke="#111" stroke-width="3.1"/>
<circle cx="1155" cy="1448.1" r="4.9" fill="#fff" stroke="#111" stroke-width="3.1"/>
<circle cx="1139.8" cy="1462.1" r="4.9" fill="#fff" stroke="#111" stroke-width="3.1"/>
<circle cx="1139.8" cy="1489.2" r="4.9" fill="#fff" stroke="#111" stroke-width="3.1"/>
<circle cx="1243.9" cy="1507.2" r="4.9" fill="#fff" stroke="#111" stroke-width="3.1"/>
<circle cx="1266.9" cy="1508.8" r="4.9" fill="#fff" stroke="#111" stroke-width="3.1"/>
<circle cx="1281.8" cy="1504.1" r="4.9" fill="#fff" stroke="#111" stroke-width="3.1"/>
<circle cx="1251.6" cy="1523.4" r="4.9" fill="#fff" stroke="#111" stroke-width="3.1"/>
<circle cx="1266.9" cy="1527.4" r="4.9" fill="#fff" stroke="#111" stroke-width="3.1"/>
<circle cx="1281.8" cy="1527.4" r="4.9" fill="#fff" stroke="#111" stroke-width="3.1"/>
</g>
<line x1="948.3" y1="1287" x2="948.3" y2="1545.7" stroke="#111" stroke-width="2.7"/>
<line x1="939.9" y1="1542.9" x2="1333.1" y2="1542.9" stroke="#111" stroke-width="2.7"/>
<line x1="939.9" y1="1288" x2="948.3" y2="1288" stroke="#111" stroke-width="2.5"/>
<text x="909.9" y="1294.6" font-size="19.8" font-weight="bold" fill="#4a4a4a" textLength="23.1" lengthAdjust="spacingAndGlyphs">60</text>
<line x1="939.9" y1="1373.5" x2="948.3" y2="1373.5" stroke="#111" stroke-width="2.5"/>
<text x="909.9" y="1380.1" font-size="19.8" font-weight="bold" fill="#4a4a4a" textLength="23.1" lengthAdjust="spacingAndGlyphs">40</text>
<line x1="939.9" y1="1458.1" x2="948.3" y2="1458.1" stroke="#111" stroke-width="2.5"/>
<text x="909.9" y="1464.7" font-size="19.8" font-weight="bold" fill="#4a4a4a" textLength="23.1" lengthAdjust="spacingAndGlyphs">20</text>
<line x1="939.9" y1="1542.9" x2="948.3" y2="1542.9" stroke="#111" stroke-width="2.5"/>
<text x="921" y="1542.4" font-size="19.8" font-weight="bold" fill="#4a4a4a" textLength="12" lengthAdjust="spacingAndGlyphs">0</text>
<line x1="1012.3" y1="1542.9" x2="1012.3" y2="1551.4" stroke="#111" stroke-width="2.5"/>
<line x1="1138.8" y1="1542.9" x2="1138.8" y2="1551.4" stroke="#111" stroke-width="2.5"/>
<line x1="1266.3" y1="1542.9" x2="1266.3" y2="1551.4" stroke="#111" stroke-width="2.5"/>
<line x1="1012.3" y1="1282.8" x2="1138.8" y2="1282.8" stroke="#111" stroke-width="2.5"/>
<text x="1063.8" y="1277.2" font-size="23" font-weight="bold" fill="#111" textLength="25.1" lengthAdjust="spacingAndGlyphs">ns</text>
<rect x="1061.7" y="1145.6" width="113.9" height="42.4" fill="none" stroke="#111" stroke-width="4.2"/>
<text x="1084.8" y="1174.6" font-size="29.5" font-weight="bold" fill="#444" textLength="71.3" lengthAdjust="spacingAndGlyphs">Aβ40</text>
<text x="993" y="1574.9" font-size="22" fill="#111" textLength="36.8" lengthAdjust="spacingAndGlyphs">+/+</text>
<text x="1120.4" y="1574.9" font-size="22" fill="#111" textLength="31.5" lengthAdjust="spacingAndGlyphs">+/-</text>
<text x="1249.4" y="1574.9" font-size="22" fill="#111" textLength="25" lengthAdjust="spacingAndGlyphs">-/-</text>
<text x="1047.3" y="1608" font-size="23" fill="#111" textLength="190.8" lengthAdjust="spacingAndGlyphs">BACE1 genotype</text>
<text x="869.5" y="1487.1" font-size="19" font-weight="bold" fill="#505050" textLength="122.7" lengthAdjust="spacingAndGlyphs" transform="rotate(-90 869.5 1487.1)">Aβ40 (pg/mg)</text>
<line x1="1008.9" y1="1584.3" x2="1261.6" y2="1584.3" stroke="#111" stroke-width="2.5"/>
<rect x="1570.6" y="1425.5" width="84.4" height="120.5" fill="#111" stroke="#111" stroke-width="3.2"/>
<rect x="1698.3" y="1452.8" width="83.5" height="93.2" fill="#a0a0a0" stroke="#111" stroke-width="3.2"/>
<rect x="1825.7" y="1514.1" width="83.8" height="31.9" fill="#7f7f7f" stroke="#111" stroke-width="3.2"/>
<line x1="1612.8" y1="1423.9" x2="1612.8" y2="1398" stroke="#111" stroke-width="3.3"/>
<line x1="1590.9" y1="1398" x2="1633.2" y2="1398" stroke="#111" stroke-width="3.2"/>
<line x1="1739.6" y1="1451.2" x2="1739.6" y2="1438.6" stroke="#111" stroke-width="3.3"/>
<line x1="1717.7" y1="1438.6" x2="1760.6" y2="1438.6" stroke="#111" stroke-width="3.2"/>
<line x1="1867.3" y1="1512.5" x2="1867.3" y2="1507.5" stroke="#111" stroke-width="3.3"/>
<line x1="1846" y1="1507.5" x2="1888.3" y2="1507.5" stroke="#111" stroke-width="3.2"/>
<clipPath id="cl479"><rect x="0" y="0" width="1984" height="1545.5"/></clipPath><g clip-path="url(#cl479)">
<circle cx="1612.8" cy="1308.8" r="4.9" fill="#fff" stroke="#111" stroke-width="3.1"/>
<circle cx="1612.8" cy="1391.1" r="4.9" fill="#fff" stroke="#111" stroke-width="3.1"/>
<circle cx="1612.8" cy="1438" r="4.9" fill="#fff" stroke="#111" stroke-width="3.1"/>
<circle cx="1605" cy="1456.8" r="4.9" fill="#fff" stroke="#111" stroke-width="3.1"/>
<circle cx="1620.7" cy="1469.3" r="4.9" fill="#fff" stroke="#111" stroke-width="3.1"/>
<circle cx="1612.8" cy="1485.6" r="4.9" fill="#fff" stroke="#111" stroke-width="3.1"/>
<circle cx="1747.4" cy="1408.3" r="4.9" fill="#fff" stroke="#111" stroke-width="3.1"/>
<circle cx="1732.4" cy="1413.6" r="4.9" fill="#fff" stroke="#111" stroke-width="3.1"/>
<circle cx="1724.9" cy="1466.8" r="4.9" fill="#fff" stroke="#111" stroke-width="3.1"/>
<circle cx="1740.2" cy="1467.8" r="4.9" fill="#fff" stroke="#111" stroke-width="3.1"/>
<circle cx="1755.2" cy="1466.8" r="4.9" fill="#fff" stroke="#111" stroke-width="3.1"/>
<circle cx="1740.2" cy="1490.6" r="4.9" fill="#fff" stroke="#111" stroke-width="3.1"/>
<circle cx="1844.4" cy="1497.5" r="4.9" fill="#fff" stroke="#111" stroke-width="3.1"/>
<circle cx="1898.3" cy="1501.3" r="4.9" fill="#fff" stroke="#111" stroke-width="3.1"/>
<circle cx="1859.5" cy="1512.2" r="4.9" fill="#fff" stroke="#111" stroke-width="3.1"/>
<circle cx="1882.9" cy="1513.1" r="4.9" fill="#fff" stroke="#111" stroke-width="3.1"/>
<circle cx="1859.5" cy="1527.2" r="4.9" fill="#fff" stroke="#111" stroke-width="3.1"/>
<circle cx="1875.1" cy="1527.2" r="4.9" fill="#fff" stroke="#111" stroke-width="3.1"/>
</g>
<line x1="1548.7" y1="1289.3" x2="1548.7" y2="1548.8" stroke="#111" stroke-width="2.7"/>
<line x1="1540.8" y1="1546" x2="1933.6" y2="1546" stroke="#111" stroke-width="2.7"/>
<line x1="1540.8" y1="1290.3" x2="1548.7" y2="1290.3" stroke="#111" stroke-width="2.5"/>
<text x="1521.9" y="1296.9" font-size="19.8" font-weight="bold" fill="#4a4a4a" textLength="12" lengthAdjust="spacingAndGlyphs">6</text>
<line x1="1540.8" y1="1376" x2="1548.7" y2="1376" stroke="#111" stroke-width="2.5"/>
<text x="1521.9" y="1382.6" font-size="19.8" font-weight="bold" fill="#4a4a4a" textLength="12" lengthAdjust="spacingAndGlyphs">4</text>
<line x1="1540.8" y1="1460.6" x2="1548.7" y2="1460.6" stroke="#111" stroke-width="2.5"/>
<text x="1521.9" y="1467.2" font-size="19.8" font-weight="bold" fill="#4a4a4a" textLength="12" lengthAdjust="spacingAndGlyphs">2</text>
<line x1="1540.8" y1="1546" x2="1548.7" y2="1546" stroke="#111" stroke-width="2.5"/>
<text x="1521.9" y="1545.5" font-size="19.8" font-weight="bold" fill="#4a4a4a" textLength="12" lengthAdjust="spacingAndGlyphs">0</text>
<line x1="1612.8" y1="1546" x2="1612.8" y2="1554.5" stroke="#111" stroke-width="2.5"/>
<line x1="1739.6" y1="1546" x2="1739.6" y2="1554.5" stroke="#111" stroke-width="2.5"/>
<line x1="1867.3" y1="1546" x2="1867.3" y2="1554.5" stroke="#111" stroke-width="2.5"/>
<line x1="1611.3" y1="1286.2" x2="1738" y2="1286.2" stroke="#111" stroke-width="2.5"/>
<text x="1662.8" y="1280.4" font-size="23" font-weight="bold" fill="#111" textLength="25" lengthAdjust="spacingAndGlyphs">ns</text>
<rect x="1663.4" y="1145.3" width="114.8" height="43.4" fill="none" stroke="#111" stroke-width="4.2"/>
<text x="1686.2" y="1175.1" font-size="29.5" font-weight="bold" fill="#444" textLength="72.3" lengthAdjust="spacingAndGlyphs">Aβ42</text>
<text x="1594.3" y="1575" font-size="22" fill="#111" textLength="37" lengthAdjust="spacingAndGlyphs">+/+</text>
<text x="1722" y="1575" font-size="22" fill="#111" textLength="31.4" lengthAdjust="spacingAndGlyphs">+/-</text>
<text x="1851.9" y="1575" font-size="22" fill="#111" textLength="24.5" lengthAdjust="spacingAndGlyphs">-/-</text>
<text x="1648.4" y="1607" font-size="23" fill="#111" textLength="191.2" lengthAdjust="spacingAndGlyphs">BACE1 genotype</text>
<text x="1484.8" y="1487.4" font-size="19" font-weight="bold" fill="#505050" textLength="122.3" lengthAdjust="spacingAndGlyphs" transform="rotate(-90 1484.8 1487.4)">Aβ42 (pg/mg)</text>
<line x1="1611.3" y1="1585.1" x2="1863.8" y2="1585.1" stroke="#111" stroke-width="2.5"/>
<rect x="380.7" y="1986" width="121.2" height="59.6" fill="#111" stroke="#111" stroke-width="3.2"/>
<rect x="564.1" y="1898" width="120.6" height="147.6" fill="#a0a0a0" stroke="#111" stroke-width="3.2"/>
<line x1="441.3" y1="1984.4" x2="441.3" y2="1981" stroke="#111" stroke-width="3.3"/>
<line x1="418" y1="1981" x2="464.6" y2="1981" stroke="#111" stroke-width="3.2"/>
<line x1="624.7" y1="1896.4" x2="624.7" y2="1884" stroke="#111" stroke-width="3.3"/>
<line x1="593" y1="1884" x2="655.2" y2="1884" stroke="#111" stroke-width="3.2"/>
<clipPath id="cl528"><rect x="0" y="0" width="1984" height="2045.1"/></clipPath><g clip-path="url(#cl528)">
<circle cx="405" cy="1974.8" r="4.9" fill="#fff" stroke="#111" stroke-width="3.1"/>
<circle cx="441.3" cy="1966.4" r="4.9" fill="#fff" stroke="#111" stroke-width="3.1"/>
<circle cx="478" cy="1978.2" r="4.9" fill="#fff" stroke="#111" stroke-width="3.1"/>
<circle cx="419.6" cy="1981" r="4.9" fill="#fff" stroke="#111" stroke-width="3.1"/>
<circle cx="433.5" cy="1986.6" r="4.9" fill="#fff" stroke="#111" stroke-width="3.1"/>
<circle cx="448.5" cy="1987.5" r="4.9" fill="#fff" stroke="#111" stroke-width="3.1"/>
<circle cx="463.1" cy="1984.4" r="4.9" fill="#fff" stroke="#111" stroke-width="3.1"/>
<circle cx="426.7" cy="1992.8" r="4.9" fill="#fff" stroke="#111" stroke-width="3.1"/>
<circle cx="455.9" cy="1997.5" r="4.9" fill="#fff" stroke="#111" stroke-width="3.1"/>
<circle cx="441.3" cy="2003.1" r="4.9" fill="#fff" stroke="#111" stroke-width="3.1"/>
<circle cx="624.7" cy="1850.8" r="4.9" fill="#fff" stroke="#111" stroke-width="3.1"/>
<circle cx="617" cy="1869.4" r="4.9" fill="#fff" stroke="#111" stroke-width="3.1"/>
<circle cx="632.5" cy="1879.4" r="4.9" fill="#fff" stroke="#111" stroke-width="3.1"/>
<circle cx="624.7" cy="1891.8" r="4.9" fill="#fff" stroke="#111" stroke-width="3.1"/>
<circle cx="617" cy="1904.2" r="4.9" fill="#fff" stroke="#111" stroke-width="3.1"/>
<circle cx="632.5" cy="1903.6" r="4.9" fill="#fff" stroke="#111" stroke-width="3.1"/>
<circle cx="624.7" cy="1924.4" r="4.9" fill="#fff" stroke="#111" stroke-width="3.1"/>
<circle cx="624.7" cy="1950.8" r="4.9" fill="#fff" stroke="#111" stroke-width="3.1"/>
</g>
<line x1="349.6" y1="1799.1" x2="349.6" y2="2048.4" stroke="#111" stroke-width="2.7"/>
<line x1="340.9" y1="2045.6" x2="718" y2="2045.6" stroke="#111" stroke-width="2.7"/>
<line x1="340.9" y1="1800.1" x2="349.6" y2="1800.1" stroke="#111" stroke-width="2.5"/>
<text x="314.4" y="1806.7" font-size="19.8" font-weight="bold" fill="#4a4a4a" textLength="23.1" lengthAdjust="spacingAndGlyphs">40</text>
<line x1="340.9" y1="1861.6" x2="349.6" y2="1861.6" stroke="#111" stroke-width="2.5"/>
<text x="314.4" y="1868.2" font-size="19.8" font-weight="bold" fill="#4a4a4a" textLength="23.1" lengthAdjust="spacingAndGlyphs">30</text>
<line x1="340.9" y1="1922.9" x2="349.6" y2="1922.9" stroke="#111" stroke-width="2.5"/>
<text x="314.4" y="1929.5" font-size="19.8" font-weight="bold" fill="#4a4a4a" textLength="23.1" lengthAdjust="spacingAndGlyphs">20</text>
<line x1="340.9" y1="1984.4" x2="349.6" y2="1984.4" stroke="#111" stroke-width="2.5"/>
<text x="314.4" y="1991" font-size="19.8" font-weight="bold" fill="#4a4a4a" textLength="23.1" lengthAdjust="spacingAndGlyphs">10</text>
<line x1="340.9" y1="2045.6" x2="349.6" y2="2045.6" stroke="#111" stroke-width="2.5"/>
<text x="325.5" y="2045.1" font-size="19.8" font-weight="bold" fill="#4a4a4a" textLength="12" lengthAdjust="spacingAndGlyphs">0</text>
<line x1="441.3" y1="2045.6" x2="441.3" y2="2054.1" stroke="#111" stroke-width="2.5"/>
<line x1="624.7" y1="2045.6" x2="624.7" y2="2054.1" stroke="#111" stroke-width="2.5"/>
<line x1="434.2" y1="1797" x2="623.8" y2="1797" stroke="#111" stroke-width="2.5"/>
<text x="466.4" y="1786.1" font-size="21" font-weight="bold" fill="#111" textLength="136.2" lengthAdjust="spacingAndGlyphs">***p &lt; 0.0001</text>
<rect x="463.6" y="1705.8" width="113.9" height="42.4" fill="none" stroke="#111" stroke-width="4.2"/>
<text x="486.1" y="1734.8" font-size="29.5" font-weight="bold" fill="#444" textLength="71.9" lengthAdjust="spacingAndGlyphs">Aβ34</text>
<text x="388" y="2075.2" font-size="23" fill="#111" textLength="109.1" lengthAdjust="spacingAndGlyphs">Wild Type</text>
<text x="538.5" y="2075.2" font-size="23" fill="#111" textLength="178.7" lengthAdjust="spacingAndGlyphs">APP Transgenic</text>
<text x="548.7" y="2103.2" font-size="23" fill="#111" textLength="156.7" lengthAdjust="spacingAndGlyphs">(London APP)</text>
<text x="295.8" y="1975.3" font-size="19" font-weight="bold" fill="#505050" textLength="123.4" lengthAdjust="spacingAndGlyphs" transform="rotate(-90 295.8 1975.3)">Aβ34 (pg/mg)</text>
<rect x="983.4" y="2002.2" width="122.7" height="42.5" fill="#111" stroke="#111" stroke-width="3.2"/>
<rect x="1168.4" y="1870.7" width="122.7" height="174" fill="#a0a0a0" stroke="#111" stroke-width="3.2"/>
<line x1="1044.9" y1="2000.6" x2="1044.9" y2="1995" stroke="#111" stroke-width="3.3"/>
<line x1="1015" y1="1995" x2="1075" y2="1995" stroke="#111" stroke-width="3.2"/>
<line x1="1229.9" y1="1869.1" x2="1229.9" y2="1855.4" stroke="#111" stroke-width="3.3"/>
<line x1="1198.5" y1="1855.4" x2="1260" y2="1855.4" stroke="#111" stroke-width="3.2"/>
<clipPath id="cl576"><rect x="0" y="0" width="1984" height="2044.2"/></clipPath><g clip-path="url(#cl576)">
<circle cx="1000.5" cy="1998.1" r="4.9" fill="#fff" stroke="#111" stroke-width="3.1"/>
<circle cx="1015.1" cy="2001.2" r="4.9" fill="#fff" stroke="#111" stroke-width="3.1"/>
<circle cx="1030" cy="1993.4" r="4.9" fill="#fff" stroke="#111" stroke-width="3.1"/>
<circle cx="1044.9" cy="1993.4" r="4.9" fill="#fff" stroke="#111" stroke-width="3.1"/>
<circle cx="1060.2" cy="1990.3" r="4.9" fill="#fff" stroke="#111" stroke-width="3.1"/>
<circle cx="1074.5" cy="2002.1" r="4.9" fill="#fff" stroke="#111" stroke-width="3.1"/>
<circle cx="1089.1" cy="2001.2" r="4.9" fill="#fff" stroke="#111" stroke-width="3.1"/>
<circle cx="1030" cy="2009.3" r="4.9" fill="#fff" stroke="#111" stroke-width="3.1"/>
<circle cx="1044.9" cy="2012.1" r="4.9" fill="#fff" stroke="#111" stroke-width="3.1"/>
<circle cx="1060.2" cy="2012.1" r="4.9" fill="#fff" stroke="#111" stroke-width="3.1"/>
<circle cx="1222.1" cy="1826.5" r="4.9" fill="#fff" stroke="#111" stroke-width="3.1"/>
<circle cx="1237.7" cy="1826.5" r="4.9" fill="#fff" stroke="#111" stroke-width="3.1"/>
<circle cx="1229.9" cy="1855.1" r="4.9" fill="#fff" stroke="#111" stroke-width="3.1"/>
<circle cx="1229.9" cy="1882.5" r="4.9" fill="#fff" stroke="#111" stroke-width="3.1"/>
<circle cx="1215" cy="1893.3" r="4.9" fill="#fff" stroke="#111" stroke-width="3.1"/>
<circle cx="1245.1" cy="1894.3" r="4.9" fill="#fff" stroke="#111" stroke-width="3.1"/>
<circle cx="1229.9" cy="1907.3" r="4.9" fill="#fff" stroke="#111" stroke-width="3.1"/>
</g>
<line x1="952.3" y1="1796.6" x2="952.3" y2="2047.5" stroke="#111" stroke-width="2.7"/>
<line x1="944.5" y1="2044.7" x2="1324.7" y2="2044.7" stroke="#111" stroke-width="2.7"/>
<line x1="944.5" y1="1797.6" x2="952.3" y2="1797.6" stroke="#111" stroke-width="2.5"/>
<text x="905" y="1804.2" font-size="19.8" font-weight="bold" fill="#4a4a4a" textLength="34.2" lengthAdjust="spacingAndGlyphs">100</text>
<line x1="944.5" y1="1847.3" x2="952.3" y2="1847.3" stroke="#111" stroke-width="2.5"/>
<text x="916.1" y="1853.9" font-size="19.8" font-weight="bold" fill="#4a4a4a" textLength="23.1" lengthAdjust="spacingAndGlyphs">80</text>
<line x1="944.5" y1="1896.4" x2="952.3" y2="1896.4" stroke="#111" stroke-width="2.5"/>
<text x="916.1" y="1903" font-size="19.8" font-weight="bold" fill="#4a4a4a" textLength="23.1" lengthAdjust="spacingAndGlyphs">60</text>
<line x1="944.5" y1="1945.6" x2="952.3" y2="1945.6" stroke="#111" stroke-width="2.5"/>
<text x="916.1" y="1952.2" font-size="19.8" font-weight="bold" fill="#4a4a4a" textLength="23.1" lengthAdjust="spacingAndGlyphs">40</text>
<line x1="944.5" y1="1995" x2="952.3" y2="1995" stroke="#111" stroke-width="2.5"/>
<text x="916.1" y="2001.6" font-size="19.8" font-weight="bold" fill="#4a4a4a" textLength="23.1" lengthAdjust="spacingAndGlyphs">20</text>
<line x1="944.5" y1="2044.7" x2="952.3" y2="2044.7" stroke="#111" stroke-width="2.5"/>
<text x="927.2" y="2044.2" font-size="19.8" font-weight="bold" fill="#4a4a4a" textLength="12" lengthAdjust="spacingAndGlyphs">0</text>
<line x1="1044.9" y1="2044.7" x2="1044.9" y2="2053.2" stroke="#111" stroke-width="2.5"/>
<line x1="1229.9" y1="2044.7" x2="1229.9" y2="2053.2" stroke="#111" stroke-width="2.5"/>
<line x1="1039.4" y1="1797" x2="1228.3" y2="1797" stroke="#111" stroke-width="2.5"/>
<text x="1071.6" y="1785.5" font-size="21" font-weight="bold" fill="#111" textLength="135.2" lengthAdjust="spacingAndGlyphs">***p &lt; 0.0001</text>
<rect x="1078.7" y="1705.8" width="114" height="42.4" fill="none" stroke="#111" stroke-width="4.2"/>
<text x="1101.3" y="1733.9" font-size="29.5" font-weight="bold" fill="#444" textLength="71.9" lengthAdjust="spacingAndGlyphs">Aβ40</text>
<text x="992.9" y="2075" font-size="23" fill="#111" textLength="109.4" lengthAdjust="spacingAndGlyphs">Wild Type</text>
<text x="1143" y="2075" font-size="23" fill="#111" textLength="179.1" lengthAdjust="spacingAndGlyphs">APP Transgenic</text>
<text x="1154.5" y="2103" font-size="23" fill="#111" textLength="156.1" lengthAdjust="spacingAndGlyphs">(London APP)</text>
<text x="882.9" y="1975.7" font-size="19" font-weight="bold" fill="#505050" textLength="124.5" lengthAdjust="spacingAndGlyphs" transform="rotate(-90 882.9 1975.7)">Aβ40 (pg/mg)</text>
<rect x="1583.1" y="2025" width="122.6" height="19.4" fill="#111" stroke="#111" stroke-width="3.2"/>
<rect x="1768.4" y="1944.6" width="120.8" height="99.8" fill="#a0a0a0" stroke="#111" stroke-width="3.2"/>
<line x1="1643.5" y1="2023.4" x2="1643.5" y2="2020" stroke="#111" stroke-width="3.3"/>
<line x1="1615" y1="2020" x2="1672" y2="2020" stroke="#111" stroke-width="3.2"/>
<line x1="1828.8" y1="1943" x2="1828.8" y2="1936.4" stroke="#111" stroke-width="3.3"/>
<line x1="1796.9" y1="1936.4" x2="1859.5" y2="1936.4" stroke="#111" stroke-width="3.2"/>
<clipPath id="cl625"><rect x="0" y="0" width="1984" height="2043.9"/></clipPath><g clip-path="url(#cl625)">
<circle cx="1589.4" cy="2021.2" r="4.9" fill="#fff" stroke="#111" stroke-width="3.1"/>
<circle cx="1603.4" cy="2022.5" r="4.9" fill="#fff" stroke="#111" stroke-width="3.1"/>
<circle cx="1616.9" cy="2025" r="4.9" fill="#fff" stroke="#111" stroke-width="3.1"/>
<circle cx="1630.7" cy="2028.1" r="4.9" fill="#fff" stroke="#111" stroke-width="3.1"/>
<circle cx="1644.1" cy="2029.7" r="4.9" fill="#fff" stroke="#111" stroke-width="3.1"/>
<circle cx="1657.6" cy="2028.1" r="4.9" fill="#fff" stroke="#111" stroke-width="3.1"/>
<circle cx="1671.4" cy="2025" r="4.9" fill="#fff" stroke="#111" stroke-width="3.1"/>
<circle cx="1684.8" cy="2022.5" r="4.9" fill="#fff" stroke="#111" stroke-width="3.1"/>
<circle cx="1698.9" cy="2022.5" r="4.9" fill="#fff" stroke="#111" stroke-width="3.1"/>
<circle cx="1644.1" cy="2012.5" r="4.9" fill="#fff" stroke="#111" stroke-width="3.1"/>
<circle cx="1836.6" cy="1917" r="4.9" fill="#fff" stroke="#111" stroke-width="3.1"/>
<circle cx="1821.9" cy="1923.3" r="4.9" fill="#fff" stroke="#111" stroke-width="3.1"/>
<circle cx="1828.8" cy="1938.9" r="4.9" fill="#fff" stroke="#111" stroke-width="3.1"/>
<circle cx="1806.3" cy="1956.1" r="4.9" fill="#fff" stroke="#111" stroke-width="3.1"/>
<circle cx="1821.9" cy="1958.6" r="4.9" fill="#fff" stroke="#111" stroke-width="3.1"/>
<circle cx="1836.6" cy="1958.6" r="4.9" fill="#fff" stroke="#111" stroke-width="3.1"/>
<circle cx="1851.3" cy="1951.4" r="4.9" fill="#fff" stroke="#111" stroke-width="3.1"/>
</g>
<line x1="1551.8" y1="1796.4" x2="1551.8" y2="2047.2" stroke="#111" stroke-width="2.7"/>
<line x1="1544" y1="2044.4" x2="1923.3" y2="2044.4" stroke="#111" stroke-width="2.7"/>
<line x1="1544" y1="1797.4" x2="1551.8" y2="1797.4" stroke="#111" stroke-width="2.5"/>
<text x="1516.1" y="1804" font-size="19.8" font-weight="bold" fill="#4a4a4a" textLength="23.1" lengthAdjust="spacingAndGlyphs">40</text>
<line x1="1544" y1="1859.7" x2="1551.8" y2="1859.7" stroke="#111" stroke-width="2.5"/>
<text x="1516.1" y="1866.3" font-size="19.8" font-weight="bold" fill="#4a4a4a" textLength="23.1" lengthAdjust="spacingAndGlyphs">30</text>
<line x1="1544" y1="1921.1" x2="1551.8" y2="1921.1" stroke="#111" stroke-width="2.5"/>
<text x="1516.1" y="1927.7" font-size="19.8" font-weight="bold" fill="#4a4a4a" textLength="23.1" lengthAdjust="spacingAndGlyphs">20</text>
<line x1="1544" y1="1982.7" x2="1551.8" y2="1982.7" stroke="#111" stroke-width="2.5"/>
<text x="1516.1" y="1989.3" font-size="19.8" font-weight="bold" fill="#4a4a4a" textLength="23.1" lengthAdjust="spacingAndGlyphs">10</text>
<line x1="1544" y1="2044.4" x2="1551.8" y2="2044.4" stroke="#111" stroke-width="2.5"/>
<text x="1527.2" y="2043.9" font-size="19.8" font-weight="bold" fill="#4a4a4a" textLength="12" lengthAdjust="spacingAndGlyphs">0</text>
<line x1="1643.5" y1="2044.4" x2="1643.5" y2="2052.9" stroke="#111" stroke-width="2.5"/>
<line x1="1828.8" y1="2044.4" x2="1828.8" y2="2052.9" stroke="#111" stroke-width="2.5"/>
<line x1="1637.2" y1="1796.5" x2="1826.6" y2="1796.5" stroke="#111" stroke-width="2.5"/>
<text x="1668.5" y="1785.5" font-size="21" font-weight="bold" fill="#111" textLength="135.8" lengthAdjust="spacingAndGlyphs">***p &lt; 0.0001</text>
<rect x="1676" y="1706.3" width="113.1" height="41.8" fill="none" stroke="#111" stroke-width="4.2"/>
<text x="1698" y="1734.5" font-size="29.5" font-weight="bold" fill="#444" textLength="71.4" lengthAdjust="spacingAndGlyphs">Aβ42</text>
<text x="1588" y="2075" font-size="23" fill="#111" textLength="109.2" lengthAdjust="spacingAndGlyphs">Wild Type</text>
<text x="1738.2" y="2075" font-size="23" fill="#111" textLength="179" lengthAdjust="spacingAndGlyphs">APP Transgenic</text>
<text x="1750.7" y="2103.8" font-size="23" fill="#111" textLength="155.2" lengthAdjust="spacingAndGlyphs">(London APP)</text>
<text x="1492.9" y="1975.7" font-size="19" font-weight="bold" fill="#505050" textLength="124.2" lengthAdjust="spacingAndGlyphs" transform="rotate(-90 1492.9 1975.7)">Aβ42 (pg/mg)</text></svg></body></html>
